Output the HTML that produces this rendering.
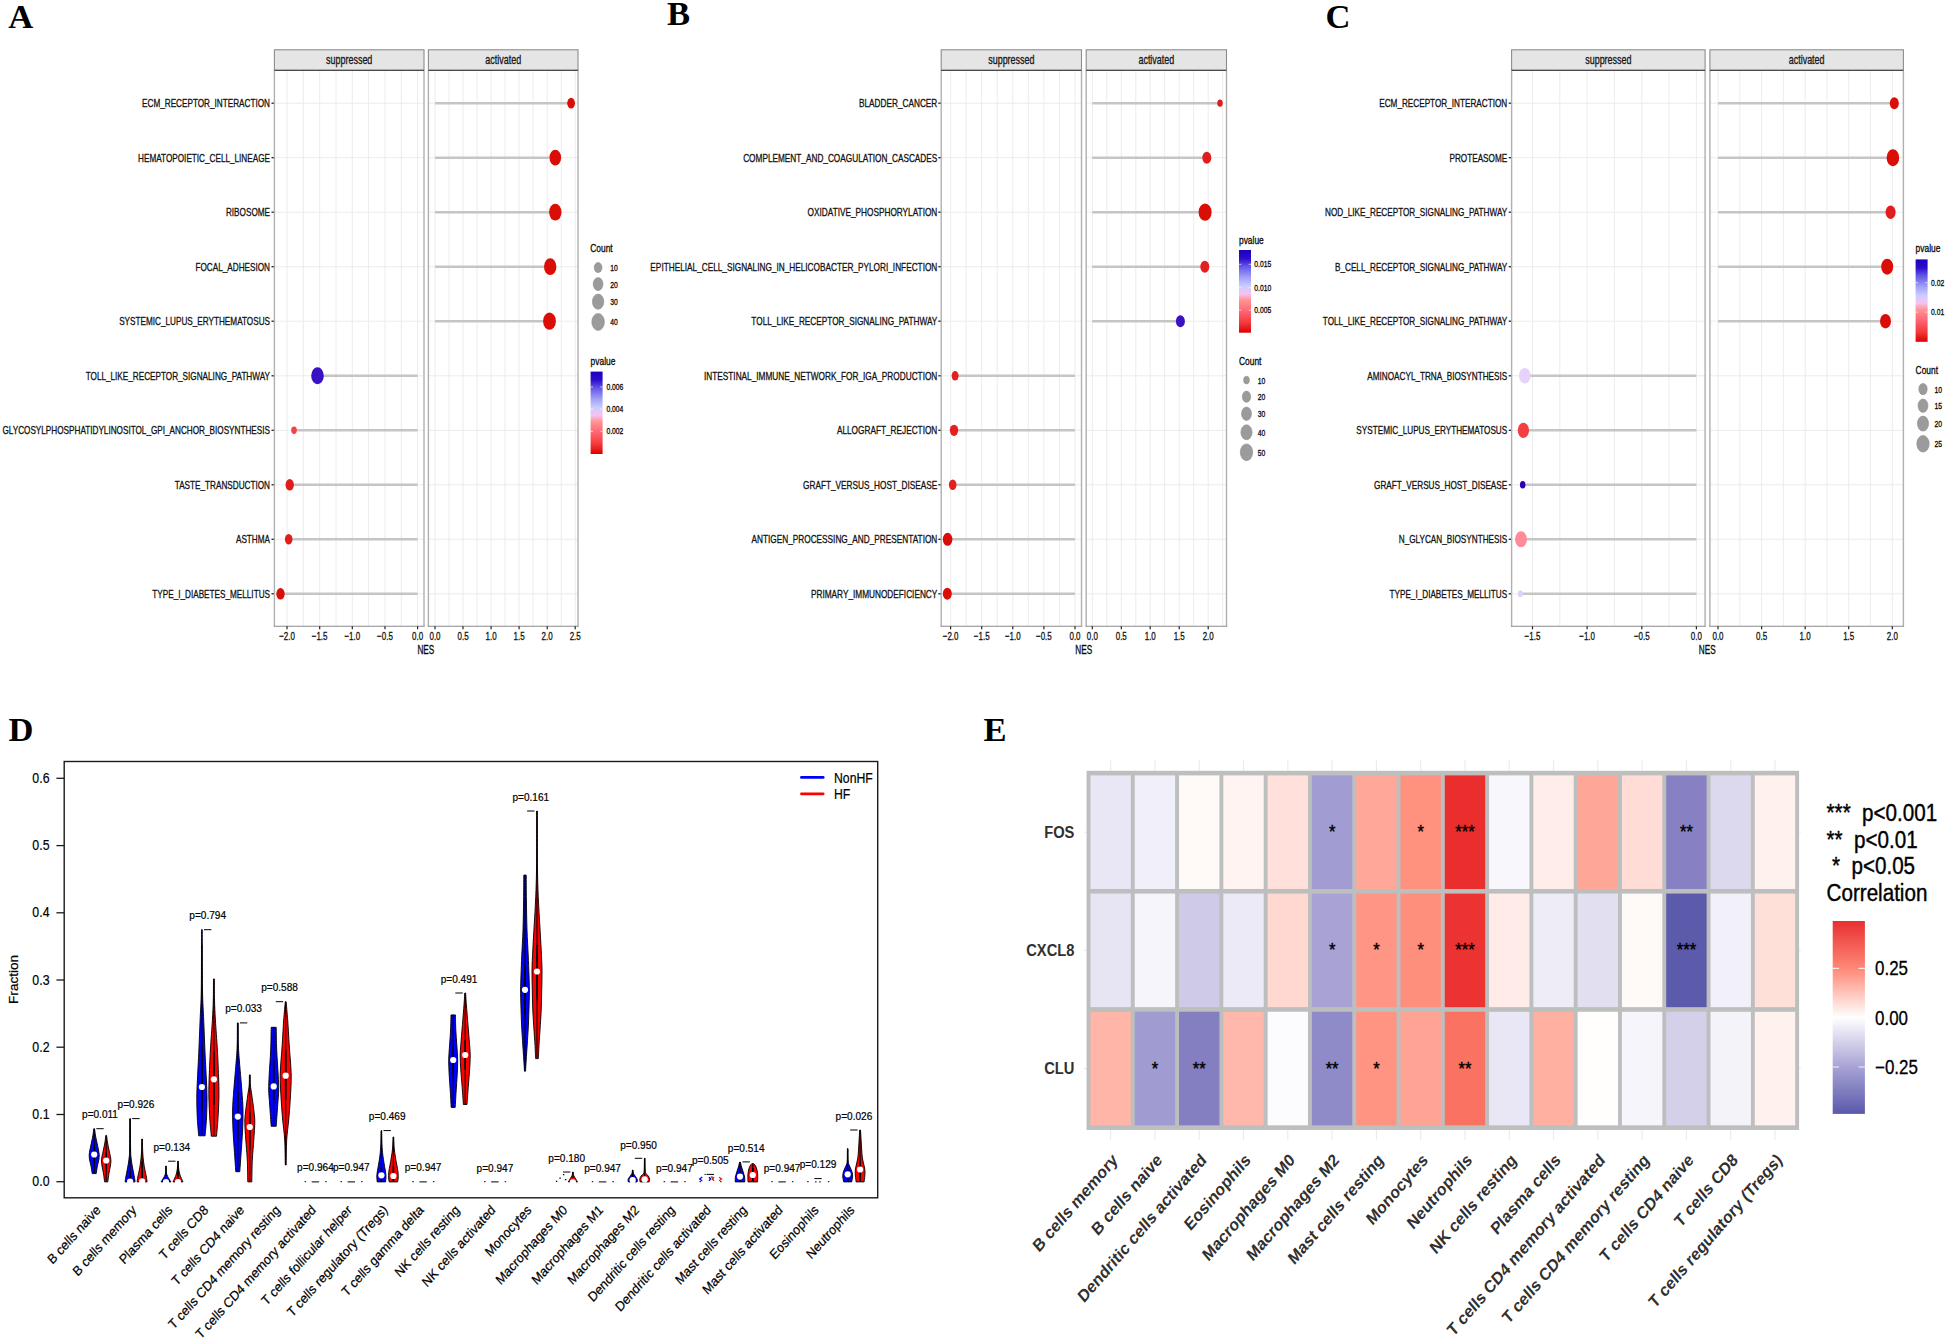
<!DOCTYPE html>
<html lang="en"><head><meta charset="utf-8"><title>Figure</title>
<style>
html,body{margin:0;padding:0;background:#fff}
body{width:1948px;height:1339px;overflow:hidden}
svg{display:block}
.s{font-family:"Liberation Sans",Arial,Helvetica,sans-serif}
.r{font-family:"Liberation Serif","Times New Roman",Times,serif}
</style></head><body>
<svg width="1948" height="1339" viewBox="0 0 1948 1339">
<defs>
<linearGradient id="pg" x1="0" y1="0" x2="0" y2="1">
<stop offset="0" stop-color="#1c00c0"/><stop offset="0.10" stop-color="#2a0ccc"/><stop offset="0.20" stop-color="#6456e8"/>
<stop offset="0.33" stop-color="#a0a0f8"/><stop offset="0.44" stop-color="#cdcdff"/><stop offset="0.53" stop-color="#f6c2f2"/>
<stop offset="0.61" stop-color="#ff9292"/><stop offset="0.74" stop-color="#ff6474"/><stop offset="0.88" stop-color="#f43a3a"/><stop offset="1" stop-color="#dc0000"/>
</linearGradient>
<linearGradient id="cg" x1="0" y1="0" x2="0" y2="1">
<stop offset="0" stop-color="#e83030"/><stop offset="0.25" stop-color="#ff8a78"/><stop offset="0.5" stop-color="#ffffff"/>
<stop offset="0.75" stop-color="#aaa5d6"/><stop offset="1" stop-color="#5a59ab"/>
</linearGradient>
</defs>
<rect width="1948" height="1339" fill="#fff"/>
<g id="panelA">
<rect x="274.4" y="49.8" width="149.6" height="20.5" fill="#e5e5e5" stroke="#8c8c8c" stroke-width="1.1"/>
<text class="s" transform="translate(349.20 63.90) scale(0.712 1)" font-size="12.6" text-anchor="middle" fill="#1a1a1a" stroke="#111" stroke-width="0.32">suppressed</text>
<rect x="428.4" y="49.8" width="149.6" height="20.5" fill="#e5e5e5" stroke="#8c8c8c" stroke-width="1.1"/>
<text class="s" transform="translate(503.20 63.90) scale(0.712 1)" font-size="12.6" text-anchor="middle" fill="#1a1a1a" stroke="#111" stroke-width="0.32">activated</text>
<path d="M287.0 70.3V626.3M303.3 70.3V626.3M319.7 70.3V626.3M336.0 70.3V626.3M352.3 70.3V626.3M368.6 70.3V626.3M385.0 70.3V626.3M401.3 70.3V626.3M417.6 70.3V626.3M274.4 103.2H424.0M274.4 157.7H424.0M274.4 212.2H424.0M274.4 266.7H424.0M274.4 321.2H424.0M274.4 375.8H424.0M274.4 430.3H424.0M274.4 484.8H424.0M274.4 539.3H424.0M274.4 593.8H424.0" stroke="#ececec" stroke-width="1" fill="none"/>
<path d="M435.0 70.3V626.3M449.0 70.3V626.3M463.0 70.3V626.3M477.1 70.3V626.3M491.1 70.3V626.3M505.1 70.3V626.3M519.1 70.3V626.3M533.1 70.3V626.3M547.2 70.3V626.3M561.2 70.3V626.3M575.2 70.3V626.3M428.4 103.2H578.0M428.4 157.7H578.0M428.4 212.2H578.0M428.4 266.7H578.0M428.4 321.2H578.0M428.4 375.8H578.0M428.4 430.3H578.0M428.4 484.8H578.0M428.4 539.3H578.0M428.4 593.8H578.0" stroke="#ececec" stroke-width="1" fill="none"/>
<path d="M435.0 103.2H571.1" stroke="#c5c5c5" stroke-width="2.6"/>
<ellipse cx="571.1" cy="103.2" rx="3.9" ry="5.4" fill="#da0e06"/>
<text class="s" transform="translate(270.00 107.30) scale(0.6939152 1)" font-size="11.8" text-anchor="end" fill="#111" stroke="#111" stroke-width="0.32">ECM_RECEPTOR_INTERACTION</text>
<path d="M271.5 103.2H274.4" stroke="#222" stroke-width="1.3"/>
<path d="M435.0 157.7H555.3" stroke="#c5c5c5" stroke-width="2.6"/>
<ellipse cx="555.3" cy="157.7" rx="5.8" ry="7.9" fill="#da0e06"/>
<text class="s" transform="translate(270.00 161.82) scale(0.6939152 1)" font-size="11.8" text-anchor="end" fill="#111" stroke="#111" stroke-width="0.32">HEMATOPOIETIC_CELL_LINEAGE</text>
<path d="M271.5 157.7H274.4" stroke="#222" stroke-width="1.3"/>
<path d="M435.0 212.2H555.3" stroke="#c5c5c5" stroke-width="2.6"/>
<ellipse cx="555.3" cy="212.2" rx="6.2" ry="8.4" fill="#da0e06"/>
<text class="s" transform="translate(270.00 216.34) scale(0.6939152 1)" font-size="11.8" text-anchor="end" fill="#111" stroke="#111" stroke-width="0.32">RIBOSOME</text>
<path d="M271.5 212.2H274.4" stroke="#222" stroke-width="1.3"/>
<path d="M435.0 266.7H550.2" stroke="#c5c5c5" stroke-width="2.6"/>
<ellipse cx="550.2" cy="266.7" rx="6.2" ry="8.4" fill="#da0e06"/>
<text class="s" transform="translate(270.00 270.86) scale(0.6939152 1)" font-size="11.8" text-anchor="end" fill="#111" stroke="#111" stroke-width="0.32">FOCAL_ADHESION</text>
<path d="M271.5 266.7H274.4" stroke="#222" stroke-width="1.3"/>
<path d="M435.0 321.2H549.5" stroke="#c5c5c5" stroke-width="2.6"/>
<ellipse cx="549.5" cy="321.2" rx="6.4" ry="8.6" fill="#da0e06"/>
<text class="s" transform="translate(270.00 325.38) scale(0.6939152 1)" font-size="11.8" text-anchor="end" fill="#111" stroke="#111" stroke-width="0.32">SYSTEMIC_LUPUS_ERYTHEMATOSUS</text>
<path d="M271.5 321.2H274.4" stroke="#222" stroke-width="1.3"/>
<path d="M417.6 375.8H317.5" stroke="#c5c5c5" stroke-width="2.6"/>
<ellipse cx="317.5" cy="375.8" rx="6.3" ry="8.5" fill="#3a12c4"/>
<text class="s" transform="translate(270.00 379.90) scale(0.6939152 1)" font-size="11.8" text-anchor="end" fill="#111" stroke="#111" stroke-width="0.32">TOLL_LIKE_RECEPTOR_SIGNALING_PATHWAY</text>
<path d="M271.5 375.8H274.4" stroke="#222" stroke-width="1.3"/>
<path d="M417.6 430.3H294.0" stroke="#c5c5c5" stroke-width="2.6"/>
<ellipse cx="294.0" cy="430.3" rx="2.8" ry="3.7" fill="#f24444"/>
<text class="s" transform="translate(270.00 434.42) scale(0.6939152 1)" font-size="11.8" text-anchor="end" fill="#111" stroke="#111" stroke-width="0.32">GLYCOSYLPHOSPHATIDYLINOSITOL_GPI_ANCHOR_BIOSYNTHESIS</text>
<path d="M271.5 430.3H274.4" stroke="#222" stroke-width="1.3"/>
<path d="M417.6 484.8H289.7" stroke="#c5c5c5" stroke-width="2.6"/>
<ellipse cx="289.7" cy="484.8" rx="4.2" ry="5.8" fill="#e01c1c"/>
<text class="s" transform="translate(270.00 488.94) scale(0.6939152 1)" font-size="11.8" text-anchor="end" fill="#111" stroke="#111" stroke-width="0.32">TASTE_TRANSDUCTION</text>
<path d="M271.5 484.8H274.4" stroke="#222" stroke-width="1.3"/>
<path d="M417.6 539.3H288.7" stroke="#c5c5c5" stroke-width="2.6"/>
<ellipse cx="288.7" cy="539.3" rx="3.8" ry="5.2" fill="#e01c1c"/>
<text class="s" transform="translate(270.00 543.46) scale(0.6939152 1)" font-size="11.8" text-anchor="end" fill="#111" stroke="#111" stroke-width="0.32">ASTHMA</text>
<path d="M271.5 539.3H274.4" stroke="#222" stroke-width="1.3"/>
<path d="M417.6 593.8H280.5" stroke="#c5c5c5" stroke-width="2.6"/>
<ellipse cx="280.5" cy="593.8" rx="4.2" ry="5.8" fill="#da0e06"/>
<text class="s" transform="translate(270.00 597.98) scale(0.6939152 1)" font-size="11.8" text-anchor="end" fill="#111" stroke="#111" stroke-width="0.32">TYPE_I_DIABETES_MELLITUS</text>
<path d="M271.5 593.8H274.4" stroke="#222" stroke-width="1.3"/>
<path d="M274.4 70.3V626.3M424.0 70.3V626.3" fill="none" stroke="#b0b0b0" stroke-width="1.4"/>
<path d="M273.7 626.3H424.7" fill="none" stroke="#8a8a8a" stroke-width="1.05"/>
<path d="M274.4 70.3H424.0" stroke="#4a4a4a" stroke-width="1.3"/>
<path d="M428.4 70.3V626.3M578.0 70.3V626.3" fill="none" stroke="#b0b0b0" stroke-width="1.4"/>
<path d="M427.7 626.3H578.7" fill="none" stroke="#8a8a8a" stroke-width="1.05"/>
<path d="M428.4 70.3H578.0" stroke="#4a4a4a" stroke-width="1.3"/>
<path d="M287.0 626.3v3.0" stroke="#222" stroke-width="1.2"/>
<text class="s" transform="translate(287.00 639.90) scale(0.675688 1)" font-size="11.8" text-anchor="middle" fill="#111" stroke="#111" stroke-width="0.32">−2.0</text>
<path d="M319.7 626.3v3.0" stroke="#222" stroke-width="1.2"/>
<text class="s" transform="translate(319.65 639.90) scale(0.675688 1)" font-size="11.8" text-anchor="middle" fill="#111" stroke="#111" stroke-width="0.32">−1.5</text>
<path d="M352.3 626.3v3.0" stroke="#222" stroke-width="1.2"/>
<text class="s" transform="translate(352.30 639.90) scale(0.675688 1)" font-size="11.8" text-anchor="middle" fill="#111" stroke="#111" stroke-width="0.32">−1.0</text>
<path d="M385.0 626.3v3.0" stroke="#222" stroke-width="1.2"/>
<text class="s" transform="translate(384.95 639.90) scale(0.675688 1)" font-size="11.8" text-anchor="middle" fill="#111" stroke="#111" stroke-width="0.32">−0.5</text>
<path d="M417.6 626.3v3.0" stroke="#222" stroke-width="1.2"/>
<text class="s" transform="translate(417.60 639.90) scale(0.675688 1)" font-size="11.8" text-anchor="middle" fill="#111" stroke="#111" stroke-width="0.32">0.0</text>
<path d="M435.0 626.3v3.0" stroke="#222" stroke-width="1.2"/>
<text class="s" transform="translate(435.00 639.90) scale(0.675688 1)" font-size="11.8" text-anchor="middle" fill="#111" stroke="#111" stroke-width="0.32">0.0</text>
<path d="M463.0 626.3v3.0" stroke="#222" stroke-width="1.2"/>
<text class="s" transform="translate(463.04 639.90) scale(0.675688 1)" font-size="11.8" text-anchor="middle" fill="#111" stroke="#111" stroke-width="0.32">0.5</text>
<path d="M491.1 626.3v3.0" stroke="#222" stroke-width="1.2"/>
<text class="s" transform="translate(491.08 639.90) scale(0.675688 1)" font-size="11.8" text-anchor="middle" fill="#111" stroke="#111" stroke-width="0.32">1.0</text>
<path d="M519.1 626.3v3.0" stroke="#222" stroke-width="1.2"/>
<text class="s" transform="translate(519.12 639.90) scale(0.675688 1)" font-size="11.8" text-anchor="middle" fill="#111" stroke="#111" stroke-width="0.32">1.5</text>
<path d="M547.2 626.3v3.0" stroke="#222" stroke-width="1.2"/>
<text class="s" transform="translate(547.16 639.90) scale(0.675688 1)" font-size="11.8" text-anchor="middle" fill="#111" stroke="#111" stroke-width="0.32">2.0</text>
<path d="M575.2 626.3v3.0" stroke="#222" stroke-width="1.2"/>
<text class="s" transform="translate(575.20 639.90) scale(0.675688 1)" font-size="11.8" text-anchor="middle" fill="#111" stroke="#111" stroke-width="0.32">2.5</text>
<text class="s" transform="translate(425.80 653.90) scale(0.6766848 1)" font-size="12.1" text-anchor="middle" stroke="#111" stroke-width="0.32">NES</text>
<text class="s" transform="translate(590.30 252.40) scale(0.712 1)" font-size="11.8" stroke="#111" stroke-width="0.32">Count</text>
<ellipse cx="598.1" cy="267.6" rx="3.9" ry="5.0" fill="#9b9b9b" stroke="#8e8e8e" stroke-width="0.6"/>
<text class="s" transform="translate(610.30 271.00) scale(0.712 1)" font-size="9.5" stroke="#111" stroke-width="0.32">10</text>
<ellipse cx="598.1" cy="284.1" rx="4.9" ry="6.5" fill="#9b9b9b" stroke="#8e8e8e" stroke-width="0.6"/>
<text class="s" transform="translate(610.30 287.50) scale(0.712 1)" font-size="9.5" stroke="#111" stroke-width="0.32">20</text>
<ellipse cx="598.1" cy="301.7" rx="5.7" ry="7.6" fill="#9b9b9b" stroke="#8e8e8e" stroke-width="0.6"/>
<text class="s" transform="translate(610.30 305.10) scale(0.712 1)" font-size="9.5" stroke="#111" stroke-width="0.32">30</text>
<ellipse cx="598.1" cy="322.0" rx="6.3" ry="8.5" fill="#9b9b9b" stroke="#8e8e8e" stroke-width="0.6"/>
<text class="s" transform="translate(610.30 325.40) scale(0.712 1)" font-size="9.5" stroke="#111" stroke-width="0.32">40</text>
<text class="s" transform="translate(590.60 364.60) scale(0.712 1)" font-size="11.8" stroke="#111" stroke-width="0.32">pvalue</text>
<rect x="590.6" y="371.6" width="12" height="82.4" fill="url(#pg)"/>
<path d="M590.6 386.9h2.4M602.6 386.9h-2.4" stroke="#fff" stroke-width="0.8" opacity="0.8"/>
<text class="s" transform="translate(606.40 389.90) scale(0.712 1)" font-size="9.5" stroke="#111" stroke-width="0.32">0.006</text>
<path d="M590.6 408.9h2.4M602.6 408.9h-2.4" stroke="#fff" stroke-width="0.8" opacity="0.8"/>
<text class="s" transform="translate(606.40 411.90) scale(0.712 1)" font-size="9.5" stroke="#111" stroke-width="0.32">0.004</text>
<path d="M590.6 431.3h2.4M602.6 431.3h-2.4" stroke="#fff" stroke-width="0.8" opacity="0.8"/>
<text class="s" transform="translate(606.40 434.30) scale(0.712 1)" font-size="9.5" stroke="#111" stroke-width="0.32">0.002</text>
</g>
<g id="panelB">
<rect x="941.2" y="49.8" width="140.3" height="20.5" fill="#e5e5e5" stroke="#8c8c8c" stroke-width="1.1"/>
<text class="s" transform="translate(1011.35 63.90) scale(0.712 1)" font-size="12.6" text-anchor="middle" fill="#1a1a1a" stroke="#111" stroke-width="0.32">suppressed</text>
<rect x="1086.2" y="49.8" width="140.3" height="20.5" fill="#e5e5e5" stroke="#8c8c8c" stroke-width="1.1"/>
<text class="s" transform="translate(1156.35 63.90) scale(0.712 1)" font-size="12.6" text-anchor="middle" fill="#1a1a1a" stroke="#111" stroke-width="0.32">activated</text>
<path d="M950.6 70.3V626.3M966.1 70.3V626.3M981.7 70.3V626.3M997.2 70.3V626.3M1012.8 70.3V626.3M1028.3 70.3V626.3M1043.9 70.3V626.3M1059.5 70.3V626.3M1075.0 70.3V626.3M941.2 103.2H1081.5M941.2 157.7H1081.5M941.2 212.2H1081.5M941.2 266.7H1081.5M941.2 321.2H1081.5M941.2 375.8H1081.5M941.2 430.3H1081.5M941.2 484.8H1081.5M941.2 539.3H1081.5M941.2 593.8H1081.5" stroke="#ececec" stroke-width="1" fill="none"/>
<path d="M1092.3 70.3V626.3M1106.8 70.3V626.3M1121.3 70.3V626.3M1135.8 70.3V626.3M1150.2 70.3V626.3M1164.7 70.3V626.3M1179.2 70.3V626.3M1193.7 70.3V626.3M1208.2 70.3V626.3M1222.7 70.3V626.3M1086.2 103.2H1226.5M1086.2 157.7H1226.5M1086.2 212.2H1226.5M1086.2 266.7H1226.5M1086.2 321.2H1226.5M1086.2 375.8H1226.5M1086.2 430.3H1226.5M1086.2 484.8H1226.5M1086.2 539.3H1226.5M1086.2 593.8H1226.5" stroke="#ececec" stroke-width="1" fill="none"/>
<path d="M1092.3 103.2H1220.0" stroke="#c5c5c5" stroke-width="2.6"/>
<ellipse cx="1220.0" cy="103.2" rx="2.7" ry="3.6" fill="#e01c1c"/>
<text class="s" transform="translate(937.30 107.30) scale(0.6997628 1)" font-size="11.8" text-anchor="end" fill="#111" stroke="#111" stroke-width="0.32">BLADDER_CANCER</text>
<path d="M938.3 103.2H941.2" stroke="#222" stroke-width="1.3"/>
<path d="M1092.3 157.7H1206.8" stroke="#c5c5c5" stroke-width="2.6"/>
<ellipse cx="1206.8" cy="157.7" rx="4.5" ry="6.0" fill="#e01c1c"/>
<text class="s" transform="translate(937.30 161.82) scale(0.6997628 1)" font-size="11.8" text-anchor="end" fill="#111" stroke="#111" stroke-width="0.32">COMPLEMENT_AND_COAGULATION_CASCADES</text>
<path d="M938.3 157.7H941.2" stroke="#222" stroke-width="1.3"/>
<path d="M1092.3 212.2H1205.1" stroke="#c5c5c5" stroke-width="2.6"/>
<ellipse cx="1205.1" cy="212.2" rx="6.5" ry="8.6" fill="#da0e06"/>
<text class="s" transform="translate(937.30 216.34) scale(0.6997628 1)" font-size="11.8" text-anchor="end" fill="#111" stroke="#111" stroke-width="0.32">OXIDATIVE_PHOSPHORYLATION</text>
<path d="M938.3 212.2H941.2" stroke="#222" stroke-width="1.3"/>
<path d="M1092.3 266.7H1204.8" stroke="#c5c5c5" stroke-width="2.6"/>
<ellipse cx="1204.8" cy="266.7" rx="4.5" ry="6.0" fill="#e22020"/>
<text class="s" transform="translate(937.30 270.86) scale(0.6997628 1)" font-size="11.8" text-anchor="end" fill="#111" stroke="#111" stroke-width="0.32">EPITHELIAL_CELL_SIGNALING_IN_HELICOBACTER_PYLORI_INFECTION</text>
<path d="M938.3 266.7H941.2" stroke="#222" stroke-width="1.3"/>
<path d="M1092.3 321.2H1180.4" stroke="#c5c5c5" stroke-width="2.6"/>
<ellipse cx="1180.4" cy="321.2" rx="4.5" ry="6.0" fill="#3a12c4"/>
<text class="s" transform="translate(937.30 325.38) scale(0.6997628 1)" font-size="11.8" text-anchor="end" fill="#111" stroke="#111" stroke-width="0.32">TOLL_LIKE_RECEPTOR_SIGNALING_PATHWAY</text>
<path d="M938.3 321.2H941.2" stroke="#222" stroke-width="1.3"/>
<path d="M1075.0 375.8H955.1" stroke="#c5c5c5" stroke-width="2.6"/>
<ellipse cx="955.1" cy="375.8" rx="3.5" ry="4.8" fill="#e22020"/>
<text class="s" transform="translate(937.30 379.90) scale(0.6997628 1)" font-size="11.8" text-anchor="end" fill="#111" stroke="#111" stroke-width="0.32">INTESTINAL_IMMUNE_NETWORK_FOR_IGA_PRODUCTION</text>
<path d="M938.3 375.8H941.2" stroke="#222" stroke-width="1.3"/>
<path d="M1075.0 430.3H954.0" stroke="#c5c5c5" stroke-width="2.6"/>
<ellipse cx="954.0" cy="430.3" rx="4.2" ry="5.6" fill="#e22020"/>
<text class="s" transform="translate(937.30 434.42) scale(0.6997628 1)" font-size="11.8" text-anchor="end" fill="#111" stroke="#111" stroke-width="0.32">ALLOGRAFT_REJECTION</text>
<path d="M938.3 430.3H941.2" stroke="#222" stroke-width="1.3"/>
<path d="M1075.0 484.8H952.7" stroke="#c5c5c5" stroke-width="2.6"/>
<ellipse cx="952.7" cy="484.8" rx="3.8" ry="5.2" fill="#e22020"/>
<text class="s" transform="translate(937.30 488.94) scale(0.6997628 1)" font-size="11.8" text-anchor="end" fill="#111" stroke="#111" stroke-width="0.32">GRAFT_VERSUS_HOST_DISEASE</text>
<path d="M938.3 484.8H941.2" stroke="#222" stroke-width="1.3"/>
<path d="M1075.0 539.3H947.6" stroke="#c5c5c5" stroke-width="2.6"/>
<ellipse cx="947.6" cy="539.3" rx="4.8" ry="6.5" fill="#da0e06"/>
<text class="s" transform="translate(937.30 543.46) scale(0.6997628 1)" font-size="11.8" text-anchor="end" fill="#111" stroke="#111" stroke-width="0.32">ANTIGEN_PROCESSING_AND_PRESENTATION</text>
<path d="M938.3 539.3H941.2" stroke="#222" stroke-width="1.3"/>
<path d="M1075.0 593.8H947.3" stroke="#c5c5c5" stroke-width="2.6"/>
<ellipse cx="947.3" cy="593.8" rx="4.5" ry="6.0" fill="#da0e06"/>
<text class="s" transform="translate(937.30 597.98) scale(0.6997628 1)" font-size="11.8" text-anchor="end" fill="#111" stroke="#111" stroke-width="0.32">PRIMARY_IMMUNODEFICIENCY</text>
<path d="M938.3 593.8H941.2" stroke="#222" stroke-width="1.3"/>
<path d="M941.2 70.3V626.3M1081.5 70.3V626.3" fill="none" stroke="#b0b0b0" stroke-width="1.4"/>
<path d="M940.5 626.3H1082.2" fill="none" stroke="#8a8a8a" stroke-width="1.05"/>
<path d="M941.2 70.3H1081.5" stroke="#4a4a4a" stroke-width="1.3"/>
<path d="M1086.2 70.3V626.3M1226.5 70.3V626.3" fill="none" stroke="#b0b0b0" stroke-width="1.4"/>
<path d="M1085.5 626.3H1227.2" fill="none" stroke="#8a8a8a" stroke-width="1.05"/>
<path d="M1086.2 70.3H1226.5" stroke="#4a4a4a" stroke-width="1.3"/>
<path d="M950.6 626.3v3.0" stroke="#222" stroke-width="1.2"/>
<text class="s" transform="translate(950.60 639.90) scale(0.675688 1)" font-size="11.8" text-anchor="middle" fill="#111" stroke="#111" stroke-width="0.32">−2.0</text>
<path d="M981.7 626.3v3.0" stroke="#222" stroke-width="1.2"/>
<text class="s" transform="translate(981.70 639.90) scale(0.675688 1)" font-size="11.8" text-anchor="middle" fill="#111" stroke="#111" stroke-width="0.32">−1.5</text>
<path d="M1012.8 626.3v3.0" stroke="#222" stroke-width="1.2"/>
<text class="s" transform="translate(1012.80 639.90) scale(0.675688 1)" font-size="11.8" text-anchor="middle" fill="#111" stroke="#111" stroke-width="0.32">−1.0</text>
<path d="M1043.9 626.3v3.0" stroke="#222" stroke-width="1.2"/>
<text class="s" transform="translate(1043.90 639.90) scale(0.675688 1)" font-size="11.8" text-anchor="middle" fill="#111" stroke="#111" stroke-width="0.32">−0.5</text>
<path d="M1075.0 626.3v3.0" stroke="#222" stroke-width="1.2"/>
<text class="s" transform="translate(1075.00 639.90) scale(0.675688 1)" font-size="11.8" text-anchor="middle" fill="#111" stroke="#111" stroke-width="0.32">0.0</text>
<path d="M1092.3 626.3v3.0" stroke="#222" stroke-width="1.2"/>
<text class="s" transform="translate(1092.30 639.90) scale(0.675688 1)" font-size="11.8" text-anchor="middle" fill="#111" stroke="#111" stroke-width="0.32">0.0</text>
<path d="M1121.3 626.3v3.0" stroke="#222" stroke-width="1.2"/>
<text class="s" transform="translate(1121.27 639.90) scale(0.675688 1)" font-size="11.8" text-anchor="middle" fill="#111" stroke="#111" stroke-width="0.32">0.5</text>
<path d="M1150.2 626.3v3.0" stroke="#222" stroke-width="1.2"/>
<text class="s" transform="translate(1150.25 639.90) scale(0.675688 1)" font-size="11.8" text-anchor="middle" fill="#111" stroke="#111" stroke-width="0.32">1.0</text>
<path d="M1179.2 626.3v3.0" stroke="#222" stroke-width="1.2"/>
<text class="s" transform="translate(1179.22 639.90) scale(0.675688 1)" font-size="11.8" text-anchor="middle" fill="#111" stroke="#111" stroke-width="0.32">1.5</text>
<path d="M1208.2 626.3v3.0" stroke="#222" stroke-width="1.2"/>
<text class="s" transform="translate(1208.20 639.90) scale(0.675688 1)" font-size="11.8" text-anchor="middle" fill="#111" stroke="#111" stroke-width="0.32">2.0</text>
<text class="s" transform="translate(1083.70 653.90) scale(0.6766848 1)" font-size="12.1" text-anchor="middle" stroke="#111" stroke-width="0.32">NES</text>
<text class="s" transform="translate(1239.00 364.80) scale(0.712 1)" font-size="11.8" stroke="#111" stroke-width="0.32">Count</text>
<ellipse cx="1246.5" cy="380.1" rx="2.9" ry="3.9" fill="#9b9b9b" stroke="#8e8e8e" stroke-width="0.6"/>
<text class="s" transform="translate(1257.70 383.50) scale(0.712 1)" font-size="9.5" stroke="#111" stroke-width="0.32">10</text>
<ellipse cx="1246.5" cy="396.7" rx="4.2" ry="5.6" fill="#9b9b9b" stroke="#8e8e8e" stroke-width="0.6"/>
<text class="s" transform="translate(1257.70 400.10) scale(0.712 1)" font-size="9.5" stroke="#111" stroke-width="0.32">20</text>
<ellipse cx="1246.5" cy="413.7" rx="5.0" ry="6.7" fill="#9b9b9b" stroke="#8e8e8e" stroke-width="0.6"/>
<text class="s" transform="translate(1257.70 417.10) scale(0.712 1)" font-size="9.5" stroke="#111" stroke-width="0.32">30</text>
<ellipse cx="1246.5" cy="432.3" rx="5.6" ry="7.5" fill="#9b9b9b" stroke="#8e8e8e" stroke-width="0.6"/>
<text class="s" transform="translate(1257.70 435.70) scale(0.712 1)" font-size="9.5" stroke="#111" stroke-width="0.32">40</text>
<ellipse cx="1246.5" cy="452.3" rx="6.2" ry="8.4" fill="#9b9b9b" stroke="#8e8e8e" stroke-width="0.6"/>
<text class="s" transform="translate(1257.70 455.70) scale(0.712 1)" font-size="9.5" stroke="#111" stroke-width="0.32">50</text>
<text class="s" transform="translate(1239.00 243.60) scale(0.712 1)" font-size="11.8" stroke="#111" stroke-width="0.32">pvalue</text>
<rect x="1239.0" y="250.0" width="12" height="82.7" fill="url(#pg)"/>
<path d="M1239.0 264.3h2.4M1251.0 264.3h-2.4" stroke="#fff" stroke-width="0.8" opacity="0.8"/>
<text class="s" transform="translate(1254.30 267.30) scale(0.712 1)" font-size="9.5" stroke="#111" stroke-width="0.32">0.015</text>
<path d="M1239.0 287.7h2.4M1251.0 287.7h-2.4" stroke="#fff" stroke-width="0.8" opacity="0.8"/>
<text class="s" transform="translate(1254.30 290.70) scale(0.712 1)" font-size="9.5" stroke="#111" stroke-width="0.32">0.010</text>
<path d="M1239.0 310.09999999999997h2.4M1251.0 310.09999999999997h-2.4" stroke="#fff" stroke-width="0.8" opacity="0.8"/>
<text class="s" transform="translate(1254.30 313.10) scale(0.712 1)" font-size="9.5" stroke="#111" stroke-width="0.32">0.005</text>
</g>
<g id="panelC">
<rect x="1511.6" y="49.8" width="193.5" height="20.5" fill="#e5e5e5" stroke="#8c8c8c" stroke-width="1.1"/>
<text class="s" transform="translate(1608.35 63.90) scale(0.712 1)" font-size="12.6" text-anchor="middle" fill="#1a1a1a" stroke="#111" stroke-width="0.32">suppressed</text>
<rect x="1709.9" y="49.8" width="193.5" height="20.5" fill="#e5e5e5" stroke="#8c8c8c" stroke-width="1.1"/>
<text class="s" transform="translate(1806.65 63.90) scale(0.712 1)" font-size="12.6" text-anchor="middle" fill="#1a1a1a" stroke="#111" stroke-width="0.32">activated</text>
<path d="M1532.5 70.3V626.3M1559.8 70.3V626.3M1587.1 70.3V626.3M1614.4 70.3V626.3M1641.8 70.3V626.3M1669.1 70.3V626.3M1696.4 70.3V626.3M1511.6 103.2H1705.1M1511.6 157.7H1705.1M1511.6 212.2H1705.1M1511.6 266.7H1705.1M1511.6 321.2H1705.1M1511.6 375.8H1705.1M1511.6 430.3H1705.1M1511.6 484.8H1705.1M1511.6 539.3H1705.1M1511.6 593.8H1705.1" stroke="#ececec" stroke-width="1" fill="none"/>
<path d="M1718.0 70.3V626.3M1739.8 70.3V626.3M1761.6 70.3V626.3M1783.4 70.3V626.3M1805.2 70.3V626.3M1826.9 70.3V626.3M1848.7 70.3V626.3M1870.5 70.3V626.3M1892.3 70.3V626.3M1709.9 103.2H1903.4M1709.9 157.7H1903.4M1709.9 212.2H1903.4M1709.9 266.7H1903.4M1709.9 321.2H1903.4M1709.9 375.8H1903.4M1709.9 430.3H1903.4M1709.9 484.8H1903.4M1709.9 539.3H1903.4M1709.9 593.8H1903.4" stroke="#ececec" stroke-width="1" fill="none"/>
<path d="M1718.0 103.2H1894.3" stroke="#c5c5c5" stroke-width="2.6"/>
<ellipse cx="1894.3" cy="103.2" rx="4.5" ry="6.0" fill="#da0e06"/>
<text class="s" transform="translate(1507.20 107.30) scale(0.6939152 1)" font-size="11.8" text-anchor="end" fill="#111" stroke="#111" stroke-width="0.32">ECM_RECEPTOR_INTERACTION</text>
<path d="M1508.7 103.2H1511.6" stroke="#222" stroke-width="1.3"/>
<path d="M1718.0 157.7H1892.9" stroke="#c5c5c5" stroke-width="2.6"/>
<ellipse cx="1892.9" cy="157.7" rx="6.3" ry="8.5" fill="#da0e06"/>
<text class="s" transform="translate(1507.20 161.82) scale(0.6939152 1)" font-size="11.8" text-anchor="end" fill="#111" stroke="#111" stroke-width="0.32">PROTEASOME</text>
<path d="M1508.7 157.7H1511.6" stroke="#222" stroke-width="1.3"/>
<path d="M1718.0 212.2H1890.6" stroke="#c5c5c5" stroke-width="2.6"/>
<ellipse cx="1890.6" cy="212.2" rx="5.0" ry="6.8" fill="#e01c1c"/>
<text class="s" transform="translate(1507.20 216.34) scale(0.6939152 1)" font-size="11.8" text-anchor="end" fill="#111" stroke="#111" stroke-width="0.32">NOD_LIKE_RECEPTOR_SIGNALING_PATHWAY</text>
<path d="M1508.7 212.2H1511.6" stroke="#222" stroke-width="1.3"/>
<path d="M1718.0 266.7H1887.2" stroke="#c5c5c5" stroke-width="2.6"/>
<ellipse cx="1887.2" cy="266.7" rx="6.0" ry="8.0" fill="#da0e06"/>
<text class="s" transform="translate(1507.20 270.86) scale(0.6939152 1)" font-size="11.8" text-anchor="end" fill="#111" stroke="#111" stroke-width="0.32">B_CELL_RECEPTOR_SIGNALING_PATHWAY</text>
<path d="M1508.7 266.7H1511.6" stroke="#222" stroke-width="1.3"/>
<path d="M1718.0 321.2H1885.5" stroke="#c5c5c5" stroke-width="2.6"/>
<ellipse cx="1885.5" cy="321.2" rx="5.5" ry="7.3" fill="#da0e06"/>
<text class="s" transform="translate(1507.20 325.38) scale(0.6939152 1)" font-size="11.8" text-anchor="end" fill="#111" stroke="#111" stroke-width="0.32">TOLL_LIKE_RECEPTOR_SIGNALING_PATHWAY</text>
<path d="M1508.7 321.2H1511.6" stroke="#222" stroke-width="1.3"/>
<path d="M1696.4 375.8H1524.8" stroke="#c5c5c5" stroke-width="2.6"/>
<ellipse cx="1524.8" cy="375.8" rx="5.8" ry="7.8" fill="#e6d2fa"/>
<text class="s" transform="translate(1507.20 379.90) scale(0.6939152 1)" font-size="11.8" text-anchor="end" fill="#111" stroke="#111" stroke-width="0.32">AMINOACYL_TRNA_BIOSYNTHESIS</text>
<path d="M1508.7 375.8H1511.6" stroke="#222" stroke-width="1.3"/>
<path d="M1696.4 430.3H1523.4" stroke="#c5c5c5" stroke-width="2.6"/>
<ellipse cx="1523.4" cy="430.3" rx="5.7" ry="7.6" fill="#f24040"/>
<text class="s" transform="translate(1507.20 434.42) scale(0.6939152 1)" font-size="11.8" text-anchor="end" fill="#111" stroke="#111" stroke-width="0.32">SYSTEMIC_LUPUS_ERYTHEMATOSUS</text>
<path d="M1508.7 430.3H1511.6" stroke="#222" stroke-width="1.3"/>
<path d="M1696.4 484.8H1522.7" stroke="#c5c5c5" stroke-width="2.6"/>
<ellipse cx="1522.7" cy="484.8" rx="2.8" ry="3.8" fill="#3000b4"/>
<text class="s" transform="translate(1507.20 488.94) scale(0.6939152 1)" font-size="11.8" text-anchor="end" fill="#111" stroke="#111" stroke-width="0.32">GRAFT_VERSUS_HOST_DISEASE</text>
<path d="M1508.7 484.8H1511.6" stroke="#222" stroke-width="1.3"/>
<path d="M1696.4 539.3H1521.0" stroke="#c5c5c5" stroke-width="2.6"/>
<ellipse cx="1521.0" cy="539.3" rx="6.0" ry="8.0" fill="#ff8a98"/>
<text class="s" transform="translate(1507.20 543.46) scale(0.6939152 1)" font-size="11.8" text-anchor="end" fill="#111" stroke="#111" stroke-width="0.32">N_GLYCAN_BIOSYNTHESIS</text>
<path d="M1508.7 539.3H1511.6" stroke="#222" stroke-width="1.3"/>
<path d="M1696.4 593.8H1520.4" stroke="#c5c5c5" stroke-width="2.6"/>
<ellipse cx="1520.4" cy="593.8" rx="2.6" ry="3.5" fill="#dcd4fa"/>
<text class="s" transform="translate(1507.20 597.98) scale(0.6939152 1)" font-size="11.8" text-anchor="end" fill="#111" stroke="#111" stroke-width="0.32">TYPE_I_DIABETES_MELLITUS</text>
<path d="M1508.7 593.8H1511.6" stroke="#222" stroke-width="1.3"/>
<path d="M1511.6 70.3V626.3M1705.1 70.3V626.3" fill="none" stroke="#b0b0b0" stroke-width="1.4"/>
<path d="M1510.9 626.3H1705.8" fill="none" stroke="#8a8a8a" stroke-width="1.05"/>
<path d="M1511.6 70.3H1705.1" stroke="#4a4a4a" stroke-width="1.3"/>
<path d="M1709.9 70.3V626.3M1903.4 70.3V626.3" fill="none" stroke="#b0b0b0" stroke-width="1.4"/>
<path d="M1709.2 626.3H1904.1" fill="none" stroke="#8a8a8a" stroke-width="1.05"/>
<path d="M1709.9 70.3H1903.4" stroke="#4a4a4a" stroke-width="1.3"/>
<path d="M1532.5 626.3v3.0" stroke="#222" stroke-width="1.2"/>
<text class="s" transform="translate(1532.45 639.90) scale(0.675688 1)" font-size="11.8" text-anchor="middle" fill="#111" stroke="#111" stroke-width="0.32">−1.5</text>
<path d="M1587.1 626.3v3.0" stroke="#222" stroke-width="1.2"/>
<text class="s" transform="translate(1587.10 639.90) scale(0.675688 1)" font-size="11.8" text-anchor="middle" fill="#111" stroke="#111" stroke-width="0.32">−1.0</text>
<path d="M1641.8 626.3v3.0" stroke="#222" stroke-width="1.2"/>
<text class="s" transform="translate(1641.75 639.90) scale(0.675688 1)" font-size="11.8" text-anchor="middle" fill="#111" stroke="#111" stroke-width="0.32">−0.5</text>
<path d="M1696.4 626.3v3.0" stroke="#222" stroke-width="1.2"/>
<text class="s" transform="translate(1696.40 639.90) scale(0.675688 1)" font-size="11.8" text-anchor="middle" fill="#111" stroke="#111" stroke-width="0.32">0.0</text>
<path d="M1718.0 626.3v3.0" stroke="#222" stroke-width="1.2"/>
<text class="s" transform="translate(1718.00 639.90) scale(0.675688 1)" font-size="11.8" text-anchor="middle" fill="#111" stroke="#111" stroke-width="0.32">0.0</text>
<path d="M1761.6 626.3v3.0" stroke="#222" stroke-width="1.2"/>
<text class="s" transform="translate(1761.58 639.90) scale(0.675688 1)" font-size="11.8" text-anchor="middle" fill="#111" stroke="#111" stroke-width="0.32">0.5</text>
<path d="M1805.2 626.3v3.0" stroke="#222" stroke-width="1.2"/>
<text class="s" transform="translate(1805.15 639.90) scale(0.675688 1)" font-size="11.8" text-anchor="middle" fill="#111" stroke="#111" stroke-width="0.32">1.0</text>
<path d="M1848.7 626.3v3.0" stroke="#222" stroke-width="1.2"/>
<text class="s" transform="translate(1848.72 639.90) scale(0.675688 1)" font-size="11.8" text-anchor="middle" fill="#111" stroke="#111" stroke-width="0.32">1.5</text>
<path d="M1892.3 626.3v3.0" stroke="#222" stroke-width="1.2"/>
<text class="s" transform="translate(1892.30 639.90) scale(0.675688 1)" font-size="11.8" text-anchor="middle" fill="#111" stroke="#111" stroke-width="0.32">2.0</text>
<text class="s" transform="translate(1707.20 653.90) scale(0.6766848 1)" font-size="12.1" text-anchor="middle" stroke="#111" stroke-width="0.32">NES</text>
<text class="s" transform="translate(1915.60 373.60) scale(0.712 1)" font-size="11.8" stroke="#111" stroke-width="0.32">Count</text>
<ellipse cx="1923.0" cy="389.1" rx="4.2" ry="5.7" fill="#9b9b9b" stroke="#8e8e8e" stroke-width="0.6"/>
<text class="s" transform="translate(1934.50 392.50) scale(0.712 1)" font-size="9.5" stroke="#111" stroke-width="0.32">10</text>
<ellipse cx="1923.0" cy="405.7" rx="5.0" ry="6.7" fill="#9b9b9b" stroke="#8e8e8e" stroke-width="0.6"/>
<text class="s" transform="translate(1934.50 409.10) scale(0.712 1)" font-size="9.5" stroke="#111" stroke-width="0.32">15</text>
<ellipse cx="1923.0" cy="423.6" rx="5.6" ry="7.5" fill="#9b9b9b" stroke="#8e8e8e" stroke-width="0.6"/>
<text class="s" transform="translate(1934.50 427.00) scale(0.712 1)" font-size="9.5" stroke="#111" stroke-width="0.32">20</text>
<ellipse cx="1923.0" cy="443.8" rx="6.2" ry="8.3" fill="#9b9b9b" stroke="#8e8e8e" stroke-width="0.6"/>
<text class="s" transform="translate(1934.50 447.20) scale(0.712 1)" font-size="9.5" stroke="#111" stroke-width="0.32">25</text>
<text class="s" transform="translate(1915.60 252.40) scale(0.712 1)" font-size="11.8" stroke="#111" stroke-width="0.32">pvalue</text>
<rect x="1915.6" y="259.4" width="12" height="82.4" fill="url(#pg)"/>
<path d="M1915.6 282.7h2.4M1927.6 282.7h-2.4" stroke="#fff" stroke-width="0.8" opacity="0.8"/>
<text class="s" transform="translate(1931.00 285.70) scale(0.712 1)" font-size="9.5" stroke="#111" stroke-width="0.32">0.02</text>
<path d="M1915.6 312.2h2.4M1927.6 312.2h-2.4" stroke="#fff" stroke-width="0.8" opacity="0.8"/>
<text class="s" transform="translate(1931.00 315.20) scale(0.712 1)" font-size="9.5" stroke="#111" stroke-width="0.32">0.01</text>
</g>
<text class="r" transform="translate(8.30 27.70)" font-size="34.6" font-weight="bold">A</text>
<text class="r" transform="translate(667.00 25.00)" font-size="34.6" font-weight="bold">B</text>
<text class="r" transform="translate(1325.40 27.90)" font-size="34.6" font-weight="bold">C</text>
<text class="r" transform="translate(8.40 741.00)" font-size="34.6" font-weight="bold">D</text>
<text class="r" transform="translate(983.40 741.00)" font-size="34.6" font-weight="bold">E</text>
<g id="panelD">
<rect x="64.2" y="761.5" width="813.5" height="436.3" fill="none" stroke="#1a1a1a" stroke-width="1.4"/>
<path d="M56.4 1181.7H64.2" stroke="#1a1a1a" stroke-width="1.3"/>
<text class="s" transform="translate(49.50 1186.20) scale(0.822 1)" font-size="15.0" text-anchor="end" stroke="#000" stroke-width="0.22">0.0</text>
<path d="M56.4 1114.5H64.2" stroke="#1a1a1a" stroke-width="1.3"/>
<text class="s" transform="translate(49.50 1118.97) scale(0.822 1)" font-size="15.0" text-anchor="end" stroke="#000" stroke-width="0.22">0.1</text>
<path d="M56.4 1047.2H64.2" stroke="#1a1a1a" stroke-width="1.3"/>
<text class="s" transform="translate(49.50 1051.74) scale(0.822 1)" font-size="15.0" text-anchor="end" stroke="#000" stroke-width="0.22">0.2</text>
<path d="M56.4 980.0H64.2" stroke="#1a1a1a" stroke-width="1.3"/>
<text class="s" transform="translate(49.50 984.51) scale(0.822 1)" font-size="15.0" text-anchor="end" stroke="#000" stroke-width="0.22">0.3</text>
<path d="M56.4 912.8H64.2" stroke="#1a1a1a" stroke-width="1.3"/>
<text class="s" transform="translate(49.50 917.28) scale(0.822 1)" font-size="15.0" text-anchor="end" stroke="#000" stroke-width="0.22">0.4</text>
<path d="M56.4 845.6H64.2" stroke="#1a1a1a" stroke-width="1.3"/>
<text class="s" transform="translate(49.50 850.05) scale(0.822 1)" font-size="15.0" text-anchor="end" stroke="#000" stroke-width="0.22">0.5</text>
<path d="M56.4 778.3H64.2" stroke="#1a1a1a" stroke-width="1.3"/>
<text class="s" transform="translate(49.50 782.82) scale(0.822 1)" font-size="15.0" text-anchor="end" stroke="#000" stroke-width="0.22">0.6</text>
<text class="s" transform="translate(17.9 979.4) scale(0.9 1) rotate(-90)" font-size="13.6" text-anchor="middle" stroke="#000" stroke-width="0.22">Fraction</text>
<path d="M94.60 1128.70C94.73 1129.71 95.05 1132.87 95.40 1135.00C95.75 1137.13 96.30 1139.60 96.80 1142.00C97.30 1144.40 98.12 1147.92 98.50 1150.00C98.88 1152.08 99.15 1153.40 99.20 1155.00C99.25 1156.60 99.09 1158.24 98.80 1160.00C98.51 1161.76 97.82 1163.82 97.40 1166.00C96.98 1168.18 96.39 1172.38 96.20 1173.60L92.20 1173.60C92.01 1172.38 91.42 1168.18 91.00 1166.00C90.58 1163.82 89.89 1161.76 89.60 1160.00C89.31 1158.24 89.15 1156.60 89.20 1155.00C89.25 1153.40 89.52 1152.08 89.90 1150.00C90.28 1147.92 91.10 1144.40 91.60 1142.00C92.10 1139.60 92.65 1137.13 93.00 1135.00C93.35 1132.87 93.67 1129.71 93.80 1128.70Z" fill="#0000ff" stroke="#000" stroke-width="0.9" stroke-linejoin="round"/>
<path d="M94.2 1129V1173" stroke="#000" stroke-width="1.1"/>
<path d="M94.2 1146V1163" stroke="#000" stroke-width="1.6"/>
<circle cx="94.2" cy="1154.5" r="3.1" fill="#fff"/>
<path d="M106.60 1135.40C106.73 1136.46 107.02 1139.66 107.40 1142.00C107.78 1144.34 108.50 1147.60 109.00 1150.00C109.50 1152.40 110.20 1155.24 110.50 1157.00C110.80 1158.76 110.92 1159.56 110.90 1161.00C110.88 1162.44 110.70 1164.08 110.40 1166.00C110.10 1167.92 109.42 1170.46 109.00 1173.00C108.58 1175.54 107.99 1180.48 107.80 1181.90L104.60 1181.90C104.41 1180.48 103.82 1175.54 103.40 1173.00C102.98 1170.46 102.30 1167.92 102.00 1166.00C101.70 1164.08 101.52 1162.44 101.50 1161.00C101.48 1159.56 101.60 1158.76 101.90 1157.00C102.20 1155.24 102.90 1152.40 103.40 1150.00C103.90 1147.60 104.62 1144.34 105.00 1142.00C105.38 1139.66 105.67 1136.46 105.80 1135.40Z" fill="#ff0000" stroke="#000" stroke-width="0.9" stroke-linejoin="round"/>
<path d="M106.2 1136V1181" stroke="#000" stroke-width="1.1"/>
<path d="M106.2 1152V1169" stroke="#000" stroke-width="1.6"/>
<circle cx="106.2" cy="1160.5" r="3.1" fill="#fff"/>
<path d="M96.3 1128.7h7.4" stroke="#000" stroke-width="1.0"/>
<text class="s" transform="translate(100.00 1118.40) scale(0.9 1)" font-size="11.2" text-anchor="middle" stroke="#000" stroke-width="0.22">p=0.011</text>
<text class="s" transform="translate(101.3 1210.8) scale(0.9 1) rotate(-45)" font-size="13.7" text-anchor="end" stroke="#000" stroke-width="0.22">B cells naive</text>
<path d="M130.40 1118.60C130.43 1123.62 130.49 1143.70 130.60 1150.00C130.71 1156.30 130.89 1155.76 131.10 1158.00C131.31 1160.24 131.53 1161.76 131.90 1164.00C132.27 1166.24 132.95 1169.68 133.40 1172.00C133.85 1174.32 134.43 1176.92 134.70 1178.50C134.97 1180.08 135.04 1181.36 135.10 1181.90L125.10 1181.90C125.16 1181.36 125.23 1180.08 125.50 1178.50C125.77 1176.92 126.35 1174.32 126.80 1172.00C127.25 1169.68 127.93 1166.24 128.30 1164.00C128.67 1161.76 128.89 1160.24 129.10 1158.00C129.31 1155.76 129.49 1156.30 129.60 1150.00C129.71 1143.70 129.77 1123.62 129.80 1118.60Z" fill="#0000ff" stroke="#000" stroke-width="0.9" stroke-linejoin="round"/>
<path d="M130.1 1119V1181" stroke="#000" stroke-width="1.1"/>
<path d="M130.1 1172V1181" stroke="#000" stroke-width="1.6"/>
<circle cx="130.1" cy="1181.6" r="3.1" fill="#fff"/>
<path d="M142.40 1139.00C142.45 1141.08 142.51 1148.32 142.70 1152.00C142.89 1155.68 143.25 1159.12 143.60 1162.00C143.95 1164.88 144.45 1167.60 144.90 1170.00C145.35 1172.40 146.05 1175.10 146.40 1177.00C146.75 1178.90 146.99 1181.12 147.10 1181.90L137.10 1181.90C137.21 1181.12 137.45 1178.90 137.80 1177.00C138.15 1175.10 138.85 1172.40 139.30 1170.00C139.75 1167.60 140.25 1164.88 140.60 1162.00C140.95 1159.12 141.31 1155.68 141.50 1152.00C141.69 1148.32 141.75 1141.08 141.80 1139.00Z" fill="#ff0000" stroke="#000" stroke-width="0.9" stroke-linejoin="round"/>
<path d="M142.1 1139V1181" stroke="#000" stroke-width="1.1"/>
<path d="M142.1 1162V1181" stroke="#000" stroke-width="1.6"/>
<circle cx="142.1" cy="1181.4" r="3.1" fill="#fff"/>
<path d="M132.2 1118.6h7.4" stroke="#000" stroke-width="1.0"/>
<text class="s" transform="translate(135.90 1108.20) scale(0.9 1)" font-size="11.2" text-anchor="middle" stroke="#000" stroke-width="0.22">p=0.926</text>
<text class="s" transform="translate(137.2 1210.8) scale(0.9 1) rotate(-45)" font-size="13.7" text-anchor="end" stroke="#000" stroke-width="0.22">B cells memory</text>
<path d="M166.30 1166.00C166.36 1167.31 165.96 1171.66 166.70 1174.20C167.44 1176.74 170.23 1180.67 170.90 1181.90L161.10 1181.90C161.77 1180.67 164.56 1176.74 165.30 1174.20C166.04 1171.66 165.64 1167.31 165.70 1166.00Z" fill="#0000ff" stroke="#000" stroke-width="0.9" stroke-linejoin="round"/>
<path d="M166.0 1166V1176" stroke="#000" stroke-width="1.1"/>
<circle cx="166.0" cy="1182.2" r="3.1" fill="#fff"/>
<path d="M178.30 1161.20C178.36 1162.45 178.43 1166.79 178.70 1169.00C178.97 1171.21 179.31 1172.94 180.00 1175.00C180.69 1177.06 182.52 1180.80 183.00 1181.90L173.00 1181.90C173.48 1180.80 175.31 1177.06 176.00 1175.00C176.69 1172.94 177.03 1171.21 177.30 1169.00C177.57 1166.79 177.64 1162.45 177.70 1161.20Z" fill="#ff0000" stroke="#000" stroke-width="0.9" stroke-linejoin="round"/>
<path d="M178.0 1161V1181" stroke="#000" stroke-width="1.1"/>
<path d="M178.0 1166V1177" stroke="#000" stroke-width="1.6"/>
<circle cx="178.0" cy="1182.0" r="3.1" fill="#fff"/>
<path d="M168.1 1161.2h7.4" stroke="#000" stroke-width="1.0"/>
<text class="s" transform="translate(171.80 1150.70) scale(0.9 1)" font-size="11.2" text-anchor="middle" stroke="#000" stroke-width="0.22">p=0.134</text>
<text class="s" transform="translate(173.1 1210.8) scale(0.9 1) rotate(-45)" font-size="13.7" text-anchor="end" stroke="#000" stroke-width="0.22">Plasma cells</text>
<path d="M202.30 929.70C202.33 939.35 202.28 975.55 202.50 990.00C202.72 1004.45 203.32 1010.40 203.70 1020.00C204.08 1029.60 204.47 1040.40 204.90 1050.00C205.33 1059.60 206.06 1072.32 206.40 1080.00C206.74 1087.68 206.98 1091.92 207.00 1098.00C207.02 1104.08 206.80 1111.95 206.50 1118.00C206.20 1124.05 205.32 1132.95 205.10 1135.80L198.70 1135.80C198.48 1132.95 197.60 1124.05 197.30 1118.00C197.00 1111.95 196.78 1104.08 196.80 1098.00C196.82 1091.92 197.06 1087.68 197.40 1080.00C197.74 1072.32 198.47 1059.60 198.90 1050.00C199.33 1040.40 199.72 1029.60 200.10 1020.00C200.48 1010.40 201.08 1004.45 201.30 990.00C201.52 975.55 201.47 939.35 201.50 929.70Z" fill="#0000ff" stroke="#000" stroke-width="0.9" stroke-linejoin="round"/>
<path d="M201.9 945V1135" stroke="#000" stroke-width="1.1"/>
<path d="M201.9 1045V1112" stroke="#000" stroke-width="1.6"/>
<circle cx="201.9" cy="1087.0" r="3.1" fill="#fff"/>
<path d="M214.30 978.90C214.33 982.28 214.32 993.42 214.50 1000.00C214.68 1006.58 214.94 1012.00 215.40 1020.00C215.86 1028.00 216.87 1040.40 217.40 1050.00C217.93 1059.60 218.46 1072.32 218.70 1080.00C218.94 1087.68 219.03 1091.60 218.90 1098.00C218.77 1104.40 218.28 1113.89 217.90 1120.00C217.52 1126.11 216.72 1133.61 216.50 1136.20L211.30 1136.20C211.08 1133.61 210.28 1126.11 209.90 1120.00C209.52 1113.89 209.03 1104.40 208.90 1098.00C208.77 1091.60 208.86 1087.68 209.10 1080.00C209.34 1072.32 209.87 1059.60 210.40 1050.00C210.93 1040.40 211.94 1028.00 212.40 1020.00C212.86 1012.00 213.12 1006.58 213.30 1000.00C213.48 993.42 213.47 982.28 213.50 978.90Z" fill="#ff0000" stroke="#000" stroke-width="0.9" stroke-linejoin="round"/>
<path d="M213.9 979V1136" stroke="#000" stroke-width="1.1"/>
<path d="M213.9 1052V1105" stroke="#000" stroke-width="1.6"/>
<circle cx="213.9" cy="1079.3" r="3.1" fill="#fff"/>
<path d="M204.0 929.7h7.4" stroke="#000" stroke-width="1.0"/>
<text class="s" transform="translate(207.70 918.90) scale(0.9 1)" font-size="11.2" text-anchor="middle" stroke="#000" stroke-width="0.22">p=0.794</text>
<text class="s" transform="translate(209.0 1210.8) scale(0.9 1) rotate(-45)" font-size="13.7" text-anchor="end" stroke="#000" stroke-width="0.22">T cells CD8</text>
<path d="M238.20 1022.90C238.23 1026.44 238.22 1039.06 238.40 1045.00C238.58 1050.94 238.76 1052.80 239.30 1060.00C239.84 1067.20 241.21 1082.00 241.80 1090.00C242.39 1098.00 242.87 1103.60 243.00 1110.00C243.13 1116.40 242.87 1123.60 242.60 1130.00C242.33 1136.40 241.75 1143.33 241.30 1150.00C240.85 1156.67 240.04 1168.23 239.80 1171.70L235.80 1171.70C235.56 1168.23 234.75 1156.67 234.30 1150.00C233.85 1143.33 233.27 1136.40 233.00 1130.00C232.73 1123.60 232.47 1116.40 232.60 1110.00C232.73 1103.60 233.21 1098.00 233.80 1090.00C234.39 1082.00 235.76 1067.20 236.30 1060.00C236.84 1052.80 237.02 1050.94 237.20 1045.00C237.38 1039.06 237.37 1026.44 237.40 1022.90Z" fill="#0000ff" stroke="#000" stroke-width="0.9" stroke-linejoin="round"/>
<path d="M237.8 1023V1171" stroke="#000" stroke-width="1.1"/>
<path d="M237.8 1092V1140" stroke="#000" stroke-width="1.6"/>
<circle cx="237.8" cy="1116.6" r="3.1" fill="#fff"/>
<path d="M250.20 1074.90C250.23 1076.52 250.14 1081.78 250.40 1085.00C250.66 1088.22 251.26 1091.00 251.80 1095.00C252.34 1099.00 253.32 1105.68 253.80 1110.00C254.28 1114.32 254.80 1117.20 254.80 1122.00C254.80 1126.80 254.20 1133.92 253.80 1140.00C253.40 1146.08 252.62 1153.30 252.30 1160.00C251.98 1166.70 251.88 1178.40 251.80 1181.90L247.80 1181.90C247.72 1178.40 247.62 1166.70 247.30 1160.00C246.98 1153.30 246.20 1146.08 245.80 1140.00C245.40 1133.92 244.80 1126.80 244.80 1122.00C244.80 1117.20 245.32 1114.32 245.80 1110.00C246.28 1105.68 247.26 1099.00 247.80 1095.00C248.34 1091.00 248.94 1088.22 249.20 1085.00C249.46 1081.78 249.37 1076.52 249.40 1074.90Z" fill="#ff0000" stroke="#000" stroke-width="0.9" stroke-linejoin="round"/>
<path d="M249.8 1075V1181" stroke="#000" stroke-width="1.1"/>
<path d="M249.8 1112V1150" stroke="#000" stroke-width="1.6"/>
<circle cx="249.8" cy="1127.1" r="3.1" fill="#fff"/>
<path d="M239.9 1022.9h7.4" stroke="#000" stroke-width="1.0"/>
<text class="s" transform="translate(243.60 1011.60) scale(0.9 1)" font-size="11.2" text-anchor="middle" stroke="#000" stroke-width="0.22">p=0.033</text>
<text class="s" transform="translate(244.9 1210.8) scale(0.9 1) rotate(-45)" font-size="13.7" text-anchor="end" stroke="#000" stroke-width="0.22">T cells CD4 naive</text>
<path d="M276.20 1027.30C276.28 1030.93 276.38 1042.37 276.70 1050.00C277.02 1057.63 277.88 1068.60 278.20 1075.00C278.52 1081.40 278.78 1085.20 278.70 1090.00C278.62 1094.80 278.10 1099.19 277.70 1105.00C277.30 1110.81 276.44 1122.89 276.20 1126.30L271.20 1126.30C270.96 1122.89 270.10 1110.81 269.70 1105.00C269.30 1099.19 268.78 1094.80 268.70 1090.00C268.62 1085.20 268.88 1081.40 269.20 1075.00C269.52 1068.60 270.38 1057.63 270.70 1050.00C271.02 1042.37 271.12 1030.93 271.20 1027.30Z" fill="#0000ff" stroke="#000" stroke-width="0.9" stroke-linejoin="round"/>
<path d="M273.7 1027V1126" stroke="#000" stroke-width="1.1"/>
<path d="M273.7 1060V1100" stroke="#000" stroke-width="1.6"/>
<circle cx="273.7" cy="1086.4" r="3.1" fill="#fff"/>
<path d="M286.10 1001.70C286.36 1004.63 287.20 1013.07 287.70 1020.00C288.20 1026.93 288.64 1036.20 289.20 1045.00C289.76 1053.80 291.04 1066.20 291.20 1075.00C291.36 1083.80 290.60 1092.80 290.20 1100.00C289.80 1107.20 289.26 1113.60 288.70 1120.00C288.14 1126.40 287.12 1132.80 286.70 1140.00C286.28 1147.20 286.20 1161.00 286.10 1165.00L285.30 1165.00C285.20 1161.00 285.12 1147.20 284.70 1140.00C284.28 1132.80 283.26 1126.40 282.70 1120.00C282.14 1113.60 281.60 1107.20 281.20 1100.00C280.80 1092.80 280.04 1083.80 280.20 1075.00C280.36 1066.20 281.64 1053.80 282.20 1045.00C282.76 1036.20 283.20 1026.93 283.70 1020.00C284.20 1013.07 285.04 1004.63 285.30 1001.70Z" fill="#ff0000" stroke="#000" stroke-width="0.9" stroke-linejoin="round"/>
<path d="M285.7 1002V1165" stroke="#000" stroke-width="1.1"/>
<path d="M285.7 1050V1100" stroke="#000" stroke-width="1.6"/>
<circle cx="285.7" cy="1075.7" r="3.1" fill="#fff"/>
<path d="M275.8 1001.7h7.4" stroke="#000" stroke-width="1.0"/>
<text class="s" transform="translate(279.50 991.10) scale(0.9 1)" font-size="11.2" text-anchor="middle" stroke="#000" stroke-width="0.22">p=0.588</text>
<text class="s" transform="translate(280.8 1210.8) scale(0.9 1) rotate(-45)" font-size="13.7" text-anchor="end" stroke="#000" stroke-width="0.22">T cells CD4 memory resting</text>
<path d="M304.6 1181.7h1.5M325.2 1181.7h1.5" stroke="#000" stroke-width="1.0"/>
<path d="M311.7 1181.9h7.4" stroke="#000" stroke-width="1.0"/>
<text class="s" transform="translate(315.40 1170.80) scale(0.9 1)" font-size="11.2" text-anchor="middle" stroke="#000" stroke-width="0.22">p=0.964</text>
<text class="s" transform="translate(316.7 1210.8) scale(0.9 1) rotate(-45)" font-size="13.7" text-anchor="end" stroke="#000" stroke-width="0.22">T cells CD4 memory activated</text>
<path d="M340.5 1181.7h1.5M361.1 1181.7h1.5" stroke="#000" stroke-width="1.0"/>
<path d="M347.6 1181.9h7.4" stroke="#000" stroke-width="1.0"/>
<text class="s" transform="translate(351.30 1170.80) scale(0.9 1)" font-size="11.2" text-anchor="middle" stroke="#000" stroke-width="0.22">p=0.947</text>
<text class="s" transform="translate(352.6 1210.8) scale(0.9 1) rotate(-45)" font-size="13.7" text-anchor="end" stroke="#000" stroke-width="0.22">T cells follicular helper</text>
<path d="M381.70 1130.60C381.75 1132.90 381.82 1141.10 382.00 1145.00C382.18 1148.90 382.48 1152.12 382.80 1155.00C383.12 1157.88 383.62 1160.60 384.00 1163.00C384.38 1165.40 384.88 1167.92 385.20 1170.00C385.52 1172.08 385.94 1174.10 386.00 1176.00C386.06 1177.90 385.66 1180.96 385.60 1181.90L377.20 1181.90C377.14 1180.96 376.74 1177.90 376.80 1176.00C376.86 1174.10 377.28 1172.08 377.60 1170.00C377.92 1167.92 378.42 1165.40 378.80 1163.00C379.18 1160.60 379.68 1157.88 380.00 1155.00C380.32 1152.12 380.62 1148.90 380.80 1145.00C380.98 1141.10 381.05 1132.90 381.10 1130.60Z" fill="#0000ff" stroke="#000" stroke-width="0.9" stroke-linejoin="round"/>
<path d="M381.4 1131V1181" stroke="#000" stroke-width="1.1"/>
<path d="M381.4 1168V1181" stroke="#000" stroke-width="1.6"/>
<circle cx="381.4" cy="1175.3" r="3.1" fill="#fff"/>
<path d="M393.70 1137.00C393.78 1138.76 393.93 1144.80 394.20 1148.00C394.47 1151.20 394.98 1154.28 395.40 1157.00C395.82 1159.72 396.38 1162.60 396.80 1165.00C397.22 1167.40 397.78 1169.92 398.00 1172.00C398.22 1174.08 398.26 1176.42 398.20 1178.00C398.14 1179.58 397.70 1181.28 397.60 1181.90L389.20 1181.90C389.10 1181.28 388.66 1179.58 388.60 1178.00C388.54 1176.42 388.58 1174.08 388.80 1172.00C389.02 1169.92 389.58 1167.40 390.00 1165.00C390.42 1162.60 390.98 1159.72 391.40 1157.00C391.82 1154.28 392.33 1151.20 392.60 1148.00C392.87 1144.80 393.02 1138.76 393.10 1137.00Z" fill="#ff0000" stroke="#000" stroke-width="0.9" stroke-linejoin="round"/>
<path d="M393.4 1137V1181" stroke="#000" stroke-width="1.1"/>
<path d="M393.4 1166V1181" stroke="#000" stroke-width="1.6"/>
<circle cx="393.4" cy="1176.0" r="3.1" fill="#fff"/>
<path d="M383.5 1130.6h7.4" stroke="#000" stroke-width="1.0"/>
<text class="s" transform="translate(387.20 1119.60) scale(0.9 1)" font-size="11.2" text-anchor="middle" stroke="#000" stroke-width="0.22">p=0.469</text>
<text class="s" transform="translate(388.5 1210.8) scale(0.9 1) rotate(-45)" font-size="13.7" text-anchor="end" stroke="#000" stroke-width="0.22">T cells regulatory (Tregs)</text>
<path d="M412.3 1181.7h1.5M432.9 1181.7h1.5" stroke="#000" stroke-width="1.0"/>
<path d="M419.4 1181.9h7.4" stroke="#000" stroke-width="1.0"/>
<text class="s" transform="translate(423.10 1170.80) scale(0.9 1)" font-size="11.2" text-anchor="middle" stroke="#000" stroke-width="0.22">p=0.947</text>
<text class="s" transform="translate(424.4 1210.8) scale(0.9 1) rotate(-45)" font-size="13.7" text-anchor="end" stroke="#000" stroke-width="0.22">T cells gamma delta</text>
<path d="M455.40 1014.90C455.46 1017.32 455.58 1025.18 455.80 1030.00C456.02 1034.82 456.50 1040.20 456.80 1045.00C457.10 1049.80 457.64 1055.20 457.70 1060.00C457.76 1064.80 457.44 1070.20 457.20 1075.00C456.96 1079.80 456.52 1084.82 456.20 1090.00C455.88 1095.18 455.36 1104.62 455.20 1107.40L451.20 1107.40C451.04 1104.62 450.52 1095.18 450.20 1090.00C449.88 1084.82 449.44 1079.80 449.20 1075.00C448.96 1070.20 448.64 1064.80 448.70 1060.00C448.76 1055.20 449.30 1049.80 449.60 1045.00C449.90 1040.20 450.38 1034.82 450.60 1030.00C450.82 1025.18 450.94 1017.32 451.00 1014.90Z" fill="#0000ff" stroke="#000" stroke-width="0.9" stroke-linejoin="round"/>
<path d="M453.2 1015V1107" stroke="#000" stroke-width="1.1"/>
<path d="M453.2 1045V1075" stroke="#000" stroke-width="1.6"/>
<circle cx="453.2" cy="1060.0" r="3.1" fill="#fff"/>
<path d="M465.60 993.00C465.73 994.92 466.08 1000.68 466.40 1005.00C466.72 1009.32 467.15 1014.40 467.60 1020.00C468.05 1025.60 468.78 1034.40 469.20 1040.00C469.62 1045.60 470.14 1050.20 470.20 1055.00C470.26 1059.80 469.89 1065.20 469.60 1070.00C469.31 1074.80 468.82 1079.48 468.40 1085.00C467.98 1090.52 467.22 1101.38 467.00 1104.50L463.40 1104.50C463.18 1101.38 462.42 1090.52 462.00 1085.00C461.58 1079.48 461.09 1074.80 460.80 1070.00C460.51 1065.20 460.14 1059.80 460.20 1055.00C460.26 1050.20 460.78 1045.60 461.20 1040.00C461.62 1034.40 462.35 1025.60 462.80 1020.00C463.25 1014.40 463.68 1009.32 464.00 1005.00C464.32 1000.68 464.67 994.92 464.80 993.00Z" fill="#ff0000" stroke="#000" stroke-width="0.9" stroke-linejoin="round"/>
<path d="M465.2 993V1104" stroke="#000" stroke-width="1.1"/>
<path d="M465.2 1040V1070" stroke="#000" stroke-width="1.6"/>
<circle cx="465.2" cy="1055.0" r="3.1" fill="#fff"/>
<path d="M455.3 993.0h7.4" stroke="#000" stroke-width="1.0"/>
<text class="s" transform="translate(459.00 982.60) scale(0.9 1)" font-size="11.2" text-anchor="middle" stroke="#000" stroke-width="0.22">p=0.491</text>
<text class="s" transform="translate(460.3 1210.8) scale(0.9 1) rotate(-45)" font-size="13.7" text-anchor="end" stroke="#000" stroke-width="0.22">NK cells resting</text>
<path d="M484.1 1181.7h1.5M504.7 1181.7h1.5" stroke="#000" stroke-width="1.0"/>
<path d="M491.2 1181.9h7.4" stroke="#000" stroke-width="1.0"/>
<text class="s" transform="translate(494.90 1171.60) scale(0.9 1)" font-size="11.2" text-anchor="middle" stroke="#000" stroke-width="0.22">p=0.947</text>
<text class="s" transform="translate(496.2 1210.8) scale(0.9 1) rotate(-45)" font-size="13.7" text-anchor="end" stroke="#000" stroke-width="0.22">NK cells activated</text>
<path d="M526.20 875.10C526.23 879.08 526.27 891.22 526.40 900.00C526.53 908.78 526.71 921.20 527.00 930.00C527.29 938.80 527.88 947.80 528.20 955.00C528.52 962.20 528.81 969.40 529.00 975.00C529.19 980.60 529.38 985.20 529.40 990.00C529.42 994.80 529.26 999.40 529.10 1005.00C528.94 1010.60 528.70 1018.60 528.40 1025.00C528.10 1031.40 527.55 1039.40 527.20 1045.00C526.85 1050.60 526.47 1055.81 526.20 1060.00C525.93 1064.19 525.61 1069.41 525.50 1071.20L524.50 1071.20C524.39 1069.41 524.07 1064.19 523.80 1060.00C523.53 1055.81 523.15 1050.60 522.80 1045.00C522.45 1039.40 521.90 1031.40 521.60 1025.00C521.30 1018.60 521.06 1010.60 520.90 1005.00C520.74 999.40 520.58 994.80 520.60 990.00C520.62 985.20 520.81 980.60 521.00 975.00C521.19 969.40 521.48 962.20 521.80 955.00C522.12 947.80 522.71 938.80 523.00 930.00C523.29 921.20 523.47 908.78 523.60 900.00C523.73 891.22 523.77 879.08 523.80 875.10Z" fill="#0000ff" stroke="#000" stroke-width="0.9" stroke-linejoin="round"/>
<path d="M525.0 875V1071" stroke="#000" stroke-width="1.1"/>
<path d="M525.0 965V1015" stroke="#000" stroke-width="1.6"/>
<circle cx="525.0" cy="989.8" r="3.1" fill="#fff"/>
<path d="M537.30 811.00C537.33 820.44 537.32 855.76 537.50 870.00C537.68 884.24 538.03 891.20 538.40 900.00C538.77 908.80 539.35 917.00 539.80 925.00C540.25 933.00 540.85 942.80 541.20 950.00C541.55 957.20 541.92 963.60 542.00 970.00C542.08 976.40 541.83 983.60 541.70 990.00C541.57 996.40 541.47 1003.60 541.20 1010.00C540.93 1016.40 540.35 1024.40 540.00 1030.00C539.65 1035.60 539.26 1040.42 539.00 1045.00C538.74 1049.58 538.50 1056.42 538.40 1058.60L535.60 1058.60C535.50 1056.42 535.26 1049.58 535.00 1045.00C534.74 1040.42 534.35 1035.60 534.00 1030.00C533.65 1024.40 533.07 1016.40 532.80 1010.00C532.53 1003.60 532.43 996.40 532.30 990.00C532.17 983.60 531.92 976.40 532.00 970.00C532.08 963.60 532.45 957.20 532.80 950.00C533.15 942.80 533.75 933.00 534.20 925.00C534.65 917.00 535.23 908.80 535.60 900.00C535.97 891.20 536.32 884.24 536.50 870.00C536.68 855.76 536.67 820.44 536.70 811.00Z" fill="#ff0000" stroke="#000" stroke-width="0.9" stroke-linejoin="round"/>
<path d="M537.0 811V1058" stroke="#000" stroke-width="1.1"/>
<path d="M537.0 945V1000" stroke="#000" stroke-width="1.6"/>
<circle cx="537.0" cy="971.5" r="3.1" fill="#fff"/>
<path d="M527.1 811.0h7.4" stroke="#000" stroke-width="1.0"/>
<text class="s" transform="translate(530.80 800.80) scale(0.9 1)" font-size="11.2" text-anchor="middle" stroke="#000" stroke-width="0.22">p=0.161</text>
<text class="s" transform="translate(532.1 1210.8) scale(0.9 1) rotate(-45)" font-size="13.7" text-anchor="end" stroke="#000" stroke-width="0.22">Monocytes</text>
<path d="M573.20 1172.00C573.28 1172.56 573.33 1174.46 573.70 1175.50C574.07 1176.54 574.89 1177.48 575.50 1178.50C576.11 1179.52 577.18 1181.36 577.50 1181.90L568.30 1181.90C568.62 1181.36 569.69 1179.52 570.30 1178.50C570.91 1177.48 571.73 1176.54 572.10 1175.50C572.47 1174.46 572.52 1172.56 572.60 1172.00Z" fill="#ff0000" stroke="#000" stroke-width="0.9" stroke-linejoin="round"/>
<path d="M572.9 1172V1178" stroke="#000" stroke-width="1.1"/>
<circle cx="572.9" cy="1182.4" r="3.1" fill="#fff"/>
<path d="M555.9 1181.4h1.4M559.4 1178.2h1.4M562.9 1174.7h1.4M564.9 1179.7h1.4" stroke="#000" stroke-width="1.2"/>
<path d="M563.0 1172.0h7.4" stroke="#000" stroke-width="1.0"/>
<text class="s" transform="translate(566.70 1161.80) scale(0.9 1)" font-size="11.2" text-anchor="middle" stroke="#000" stroke-width="0.22">p=0.180</text>
<text class="s" transform="translate(568.0 1210.8) scale(0.9 1) rotate(-45)" font-size="13.7" text-anchor="end" stroke="#000" stroke-width="0.22">Macrophages M0</text>
<path d="M591.8 1181.7h1.5M612.4 1181.7h1.5" stroke="#000" stroke-width="1.0"/>
<path d="M598.9 1181.9h7.4" stroke="#000" stroke-width="1.0"/>
<text class="s" transform="translate(602.60 1171.60) scale(0.9 1)" font-size="11.2" text-anchor="middle" stroke="#000" stroke-width="0.22">p=0.947</text>
<text class="s" transform="translate(603.9 1210.8) scale(0.9 1) rotate(-45)" font-size="13.7" text-anchor="end" stroke="#000" stroke-width="0.22">Macrophages M1</text>
<path d="M633.00 1170.00C633.08 1170.56 633.10 1172.46 633.50 1173.50C633.90 1174.54 634.89 1175.54 635.50 1176.50C636.11 1177.46 637.04 1178.64 637.30 1179.50C637.56 1180.36 637.13 1181.52 637.10 1181.90L628.30 1181.90C628.27 1181.52 627.84 1180.36 628.10 1179.50C628.36 1178.64 629.29 1177.46 629.90 1176.50C630.51 1175.54 631.50 1174.54 631.90 1173.50C632.30 1172.46 632.32 1170.56 632.40 1170.00Z" fill="#0000ff" stroke="#000" stroke-width="0.9" stroke-linejoin="round"/>
<path d="M632.7 1170V1181" stroke="#000" stroke-width="1.1"/>
<circle cx="632.7" cy="1180.2" r="3.1" fill="#fff"/>
<path d="M645.00 1158.30C645.03 1160.17 645.06 1167.57 645.20 1170.00C645.34 1172.43 645.40 1172.54 645.90 1173.50C646.40 1174.46 647.71 1175.12 648.30 1176.00C648.89 1176.88 649.44 1178.06 649.60 1179.00C649.76 1179.94 649.35 1181.44 649.30 1181.90L640.10 1181.90C640.05 1181.44 639.64 1179.94 639.80 1179.00C639.96 1178.06 640.51 1176.88 641.10 1176.00C641.69 1175.12 643.00 1174.46 643.50 1173.50C644.00 1172.54 644.06 1172.43 644.20 1170.00C644.34 1167.57 644.37 1160.17 644.40 1158.30Z" fill="#ff0000" stroke="#000" stroke-width="0.9" stroke-linejoin="round"/>
<path d="M644.7 1158V1181" stroke="#000" stroke-width="1.1"/>
<circle cx="644.7" cy="1179.4" r="3.1" fill="#fff"/>
<path d="M634.8 1158.3h7.4" stroke="#000" stroke-width="1.0"/>
<text class="s" transform="translate(638.50 1148.50) scale(0.9 1)" font-size="11.2" text-anchor="middle" stroke="#000" stroke-width="0.22">p=0.950</text>
<text class="s" transform="translate(639.8 1210.8) scale(0.9 1) rotate(-45)" font-size="13.7" text-anchor="end" stroke="#000" stroke-width="0.22">Macrophages M2</text>
<path d="M663.6 1181.7h1.5M684.2 1181.7h1.5" stroke="#000" stroke-width="1.0"/>
<path d="M670.7 1181.9h7.4" stroke="#000" stroke-width="1.0"/>
<text class="s" transform="translate(674.40 1171.60) scale(0.9 1)" font-size="11.2" text-anchor="middle" stroke="#000" stroke-width="0.22">p=0.947</text>
<text class="s" transform="translate(675.7 1210.8) scale(0.9 1) rotate(-45)" font-size="13.7" text-anchor="end" stroke="#000" stroke-width="0.22">Dendritic cells resting</text>
<path d="M699.5 1181.7h1.5M720.1 1181.7h1.5" stroke="#000" stroke-width="1.0"/>
<path d="M702.3 1177.1000000000001l-2.6 1.9 2.6 1.9M708.9 1177.3l1.8 1.7-1.8 1.7" stroke="#0000e0" stroke-width="1.2" fill="none"/>
<path d="M714.1 1177.3l-1.8 1.7 1.8 1.7M719.1 1177.1000000000001l2.4 1.9-2.4 1.9" stroke="#f00000" stroke-width="1.2" fill="none"/>
<path d="M704.5 1174.4h1.3M710.7 1177.1000000000001h2.2" stroke="#000" stroke-width="1.0"/>
<path d="M706.6 1174.4h7.4" stroke="#000" stroke-width="1.0"/>
<text class="s" transform="translate(710.30 1164.20) scale(0.9 1)" font-size="11.2" text-anchor="middle" stroke="#000" stroke-width="0.22">p=0.505</text>
<text class="s" transform="translate(711.6 1210.8) scale(0.9 1) rotate(-45)" font-size="13.7" text-anchor="end" stroke="#000" stroke-width="0.22">Dendritic cells activated</text>
<path d="M740.40 1162.20C740.59 1162.97 741.15 1165.43 741.60 1167.00C742.05 1168.57 742.72 1170.40 743.20 1172.00C743.68 1173.60 744.34 1175.42 744.60 1177.00C744.86 1178.58 744.77 1181.12 744.80 1181.90L735.20 1181.90C735.23 1181.12 735.14 1178.58 735.40 1177.00C735.66 1175.42 736.32 1173.60 736.80 1172.00C737.28 1170.40 737.95 1168.57 738.40 1167.00C738.85 1165.43 739.41 1162.97 739.60 1162.20Z" fill="#0000ff" stroke="#000" stroke-width="0.9" stroke-linejoin="round"/>
<path d="M740.0 1162V1181" stroke="#000" stroke-width="1.1"/>
<path d="M740.0 1170V1181" stroke="#000" stroke-width="1.6"/>
<circle cx="740.0" cy="1176.6" r="3.1" fill="#fff"/>
<path d="M753.80 1163.70C754.09 1164.07 755.09 1164.99 755.60 1166.00C756.11 1167.01 756.66 1168.56 757.00 1170.00C757.34 1171.44 757.60 1173.10 757.70 1175.00C757.80 1176.90 757.62 1180.80 757.60 1181.90L748.00 1181.90C747.98 1180.80 747.80 1176.90 747.90 1175.00C748.00 1173.10 748.26 1171.44 748.60 1170.00C748.94 1168.56 749.49 1167.01 750.00 1166.00C750.51 1164.99 751.51 1164.07 751.80 1163.70Z" fill="#ff0000" stroke="#000" stroke-width="0.9" stroke-linejoin="round"/>
<path d="M752.8 1164V1181" stroke="#000" stroke-width="1.1"/>
<path d="M752.8 1168V1181" stroke="#000" stroke-width="1.6"/>
<circle cx="752.8" cy="1175.0" r="3.1" fill="#fff"/>
<path d="M742.5 1161.9h7.4" stroke="#000" stroke-width="1.0"/>
<text class="s" transform="translate(746.20 1151.70) scale(0.9 1)" font-size="11.2" text-anchor="middle" stroke="#000" stroke-width="0.22">p=0.514</text>
<text class="s" transform="translate(747.5 1210.8) scale(0.9 1) rotate(-45)" font-size="13.7" text-anchor="end" stroke="#000" stroke-width="0.22">Mast cells resting</text>
<path d="M771.3 1181.7h1.5M791.9 1181.7h1.5" stroke="#000" stroke-width="1.0"/>
<path d="M778.4 1181.9h7.4" stroke="#000" stroke-width="1.0"/>
<text class="s" transform="translate(782.10 1171.60) scale(0.9 1)" font-size="11.2" text-anchor="middle" stroke="#000" stroke-width="0.22">p=0.947</text>
<text class="s" transform="translate(783.4 1210.8) scale(0.9 1) rotate(-45)" font-size="13.7" text-anchor="end" stroke="#000" stroke-width="0.22">Mast cells activated</text>
<path d="M807.2 1181.7h1.5M827.8 1181.7h1.5" stroke="#000" stroke-width="1.0"/>
<path d="M815.0 1181.9h1.6M819.2 1181.9h1.6" stroke="#000" stroke-width="1.0"/>
<path d="M814.3 1178.6h7.4" stroke="#000" stroke-width="1.0"/>
<text class="s" transform="translate(818.00 1168.20) scale(0.9 1)" font-size="11.2" text-anchor="middle" stroke="#000" stroke-width="0.22">p=0.129</text>
<text class="s" transform="translate(819.3 1210.8) scale(0.9 1) rotate(-45)" font-size="13.7" text-anchor="end" stroke="#000" stroke-width="0.22">Eosinophils</text>
<path d="M848.00 1148.60C848.03 1150.58 848.02 1158.38 848.20 1161.00C848.38 1163.62 848.67 1163.72 849.10 1165.00C849.53 1166.28 850.39 1167.72 850.90 1169.00C851.41 1170.28 852.03 1171.72 852.30 1173.00C852.57 1174.28 852.70 1175.58 852.60 1177.00C852.50 1178.42 851.84 1181.12 851.70 1181.90L843.70 1181.90C843.56 1181.12 842.90 1178.42 842.80 1177.00C842.70 1175.58 842.83 1174.28 843.10 1173.00C843.37 1171.72 843.99 1170.28 844.50 1169.00C845.01 1167.72 845.87 1166.28 846.30 1165.00C846.73 1163.72 847.02 1163.62 847.20 1161.00C847.38 1158.38 847.37 1150.58 847.40 1148.60Z" fill="#0000ff" stroke="#000" stroke-width="0.9" stroke-linejoin="round"/>
<path d="M847.7 1149V1181" stroke="#000" stroke-width="1.1"/>
<path d="M847.7 1168V1181" stroke="#000" stroke-width="1.6"/>
<circle cx="847.7" cy="1174.3" r="3.1" fill="#fff"/>
<path d="M860.50 1130.00C860.60 1131.60 860.91 1136.80 861.10 1140.00C861.29 1143.20 861.49 1147.12 861.70 1150.00C861.91 1152.88 862.08 1155.76 862.40 1158.00C862.72 1160.24 863.30 1162.08 863.70 1164.00C864.10 1165.92 864.72 1168.08 864.90 1170.00C865.08 1171.92 864.93 1174.10 864.80 1176.00C864.67 1177.90 864.21 1180.96 864.10 1181.90L856.10 1181.90C855.99 1180.96 855.53 1177.90 855.40 1176.00C855.27 1174.10 855.12 1171.92 855.30 1170.00C855.48 1168.08 856.10 1165.92 856.50 1164.00C856.90 1162.08 857.48 1160.24 857.80 1158.00C858.12 1155.76 858.29 1152.88 858.50 1150.00C858.71 1147.12 858.91 1143.20 859.10 1140.00C859.29 1136.80 859.60 1131.60 859.70 1130.00Z" fill="#ff0000" stroke="#000" stroke-width="0.9" stroke-linejoin="round"/>
<path d="M860.1 1130V1181" stroke="#000" stroke-width="1.1"/>
<path d="M860.1 1160V1181" stroke="#000" stroke-width="1.6"/>
<circle cx="860.1" cy="1169.5" r="3.1" fill="#fff"/>
<path d="M850.2 1130.0h7.4" stroke="#000" stroke-width="1.0"/>
<text class="s" transform="translate(853.90 1119.80) scale(0.9 1)" font-size="11.2" text-anchor="middle" stroke="#000" stroke-width="0.22">p=0.026</text>
<text class="s" transform="translate(855.2 1210.8) scale(0.9 1) rotate(-45)" font-size="13.7" text-anchor="end" stroke="#000" stroke-width="0.22">Neutrophils</text>
<path d="M801.4 777.4H823.2" stroke="#0000ff" stroke-width="2.7" stroke-linecap="round"/>
<path d="M801.4 793.8H823.2" stroke="#ff0000" stroke-width="2.7" stroke-linecap="round"/>
<text class="s" transform="translate(834.00 782.50) scale(0.822 1)" font-size="14.9" stroke="#000" stroke-width="0.22">NonHF</text>
<text class="s" transform="translate(834.00 798.70) scale(0.822 1)" font-size="14.9" stroke="#000" stroke-width="0.22">HF</text>
</g>
<g id="panelE">
<path d="M1110.6 760.3V773.1M1110.6 1127.6V1140M1154.9 760.3V773.1M1154.9 1127.6V1140M1199.2 760.3V773.1M1199.2 1127.6V1140M1243.5 760.3V773.1M1243.5 1127.6V1140M1287.8 760.3V773.1M1287.8 1127.6V1140M1332.1 760.3V773.1M1332.1 1127.6V1140M1376.4 760.3V773.1M1376.4 1127.6V1140M1420.7 760.3V773.1M1420.7 1127.6V1140M1465.0 760.3V773.1M1465.0 1127.6V1140M1509.3 760.3V773.1M1509.3 1127.6V1140M1553.5 760.3V773.1M1553.5 1127.6V1140M1597.8 760.3V773.1M1597.8 1127.6V1140M1642.1 760.3V773.1M1642.1 1127.6V1140M1686.4 760.3V773.1M1686.4 1127.6V1140M1730.7 760.3V773.1M1730.7 1127.6V1140M1775.0 760.3V773.1M1775.0 1127.6V1140M1084 832.2H1088.5M1797.1 832.2h4M1084 950.4H1088.5M1797.1 950.4h4M1084 1068.6H1088.5M1797.1 1068.6h4" stroke="#ebebeb" stroke-width="1.1"/>
<rect x="1086.55" y="770.80" width="712.54" height="359.14" fill="#bdbebe"/>
<rect x="1090.45" y="775.40" width="40.39" height="113.58" fill="#e9e6f5"/>
<rect x="1134.74" y="775.40" width="40.39" height="113.58" fill="#f1eff9"/>
<rect x="1179.03" y="775.40" width="40.39" height="113.58" fill="#fffaf8"/>
<rect x="1223.32" y="775.40" width="40.39" height="113.58" fill="#fff4f1"/>
<rect x="1267.61" y="775.40" width="40.39" height="113.58" fill="#ffe0da"/>
<rect x="1311.90" y="775.40" width="40.39" height="113.58" fill="#a19cd1"/>
<text class="s" transform="translate(1332.10 838.19) scale(0.865 1)" font-size="19.2" text-anchor="middle" stroke="#000" stroke-width="0.45">*</text>
<rect x="1356.19" y="775.40" width="40.39" height="113.58" fill="#ffa899"/>
<rect x="1400.48" y="775.40" width="40.39" height="113.58" fill="#ff917f"/>
<text class="s" transform="translate(1420.67 838.19) scale(0.865 1)" font-size="19.2" text-anchor="middle" stroke="#000" stroke-width="0.45">*</text>
<rect x="1444.77" y="775.40" width="40.39" height="113.58" fill="#ea2e2e"/>
<text class="s" transform="translate(1464.96 838.19) scale(0.865 1)" font-size="19.2" text-anchor="middle" stroke="#000" stroke-width="0.45">***</text>
<rect x="1489.06" y="775.40" width="40.39" height="113.58" fill="#f8f7fc"/>
<rect x="1533.35" y="775.40" width="40.39" height="113.58" fill="#ffede9"/>
<rect x="1577.64" y="775.40" width="40.39" height="113.58" fill="#ffa797"/>
<rect x="1621.93" y="775.40" width="40.39" height="113.58" fill="#ffddd6"/>
<rect x="1666.22" y="775.40" width="40.39" height="113.58" fill="#8781c3"/>
<text class="s" transform="translate(1686.41 838.19) scale(0.865 1)" font-size="19.2" text-anchor="middle" stroke="#000" stroke-width="0.45">**</text>
<rect x="1710.51" y="775.40" width="40.39" height="113.58" fill="#dcd9ee"/>
<rect x="1754.80" y="775.40" width="40.39" height="113.58" fill="#fff2ee"/>
<rect x="1090.45" y="893.58" width="40.39" height="113.58" fill="#e7e4f4"/>
<rect x="1134.74" y="893.58" width="40.39" height="113.58" fill="#f6f5fb"/>
<rect x="1179.03" y="893.58" width="40.39" height="113.58" fill="#cfcae8"/>
<rect x="1223.32" y="893.58" width="40.39" height="113.58" fill="#eceaf6"/>
<rect x="1267.61" y="893.58" width="40.39" height="113.58" fill="#ffd9d1"/>
<rect x="1311.90" y="893.58" width="40.39" height="113.58" fill="#a9a3d5"/>
<text class="s" transform="translate(1332.10 956.37) scale(0.865 1)" font-size="19.2" text-anchor="middle" stroke="#000" stroke-width="0.45">*</text>
<rect x="1356.19" y="893.58" width="40.39" height="113.58" fill="#ff9584"/>
<text class="s" transform="translate(1376.38 956.37) scale(0.865 1)" font-size="19.2" text-anchor="middle" stroke="#000" stroke-width="0.45">*</text>
<rect x="1400.48" y="893.58" width="40.39" height="113.58" fill="#ff8f7d"/>
<text class="s" transform="translate(1420.67 956.37) scale(0.865 1)" font-size="19.2" text-anchor="middle" stroke="#000" stroke-width="0.45">*</text>
<rect x="1444.77" y="893.58" width="40.39" height="113.58" fill="#ec3331"/>
<text class="s" transform="translate(1464.96 956.37) scale(0.865 1)" font-size="19.2" text-anchor="middle" stroke="#000" stroke-width="0.45">***</text>
<rect x="1489.06" y="893.58" width="40.39" height="113.58" fill="#ffece8"/>
<rect x="1533.35" y="893.58" width="40.39" height="113.58" fill="#eeecf7"/>
<rect x="1577.64" y="893.58" width="40.39" height="113.58" fill="#e2dff1"/>
<rect x="1621.93" y="893.58" width="40.39" height="113.58" fill="#fffaf8"/>
<rect x="1666.22" y="893.58" width="40.39" height="113.58" fill="#5c5aab"/>
<text class="s" transform="translate(1686.41 956.37) scale(0.865 1)" font-size="19.2" text-anchor="middle" stroke="#000" stroke-width="0.45">***</text>
<rect x="1710.51" y="893.58" width="40.39" height="113.58" fill="#f2f1f9"/>
<rect x="1754.80" y="893.58" width="40.39" height="113.58" fill="#ffe0d9"/>
<rect x="1090.45" y="1011.76" width="40.39" height="113.58" fill="#ffb5a7"/>
<rect x="1134.74" y="1011.76" width="40.39" height="113.58" fill="#a09bd0"/>
<text class="s" transform="translate(1154.93 1074.55) scale(0.865 1)" font-size="19.2" text-anchor="middle" stroke="#000" stroke-width="0.45">*</text>
<rect x="1179.03" y="1011.76" width="40.39" height="113.58" fill="#837fc1"/>
<text class="s" transform="translate(1199.22 1074.55) scale(0.865 1)" font-size="19.2" text-anchor="middle" stroke="#000" stroke-width="0.45">**</text>
<rect x="1223.32" y="1011.76" width="40.39" height="113.58" fill="#ffb8ab"/>
<rect x="1267.61" y="1011.76" width="40.39" height="113.58" fill="#fcfcfe"/>
<rect x="1311.90" y="1011.76" width="40.39" height="113.58" fill="#8f8ac8"/>
<text class="s" transform="translate(1332.10 1074.55) scale(0.865 1)" font-size="19.2" text-anchor="middle" stroke="#000" stroke-width="0.45">**</text>
<rect x="1356.19" y="1011.76" width="40.39" height="113.58" fill="#ff9483"/>
<text class="s" transform="translate(1376.38 1074.55) scale(0.865 1)" font-size="19.2" text-anchor="middle" stroke="#000" stroke-width="0.45">*</text>
<rect x="1400.48" y="1011.76" width="40.39" height="113.58" fill="#ffa494"/>
<rect x="1444.77" y="1011.76" width="40.39" height="113.58" fill="#f97262"/>
<text class="s" transform="translate(1464.96 1074.55) scale(0.865 1)" font-size="19.2" text-anchor="middle" stroke="#000" stroke-width="0.45">**</text>
<rect x="1489.06" y="1011.76" width="40.39" height="113.58" fill="#e9e7f5"/>
<rect x="1533.35" y="1011.76" width="40.39" height="113.58" fill="#ffb0a1"/>
<rect x="1577.64" y="1011.76" width="40.39" height="113.58" fill="#fffefc"/>
<rect x="1621.93" y="1011.76" width="40.39" height="113.58" fill="#f6f5fb"/>
<rect x="1666.22" y="1011.76" width="40.39" height="113.58" fill="#d4d0ea"/>
<rect x="1710.51" y="1011.76" width="40.39" height="113.58" fill="#f4f3fa"/>
<rect x="1754.80" y="1011.76" width="40.39" height="113.58" fill="#fff1ed"/>
<text class="s" transform="translate(1074.40 837.79) scale(0.865 1)" font-size="17" text-anchor="end" font-weight="bold" fill="#303030">FOS</text>
<text class="s" transform="translate(1074.40 955.97) scale(0.865 1)" font-size="17" text-anchor="end" font-weight="bold" fill="#303030">CXCL8</text>
<text class="s" transform="translate(1074.40 1074.15) scale(0.865 1)" font-size="17" text-anchor="end" font-weight="bold" fill="#303030">CLU</text>
<text class="s" transform="translate(1118.6 1161.1) scale(0.865 1) rotate(-45)" font-size="17.6" font-weight="bold" fill="#303030" text-anchor="end">B cells memory</text>
<text class="s" transform="translate(1162.9 1161.1) scale(0.865 1) rotate(-45)" font-size="17.6" font-weight="bold" fill="#303030" text-anchor="end">B cells naive</text>
<text class="s" transform="translate(1207.2 1161.1) scale(0.865 1) rotate(-45)" font-size="17.6" font-weight="bold" fill="#303030" text-anchor="end">Dendritic cells activated</text>
<text class="s" transform="translate(1251.5 1161.1) scale(0.865 1) rotate(-45)" font-size="17.6" font-weight="bold" fill="#303030" text-anchor="end">Eosinophils</text>
<text class="s" transform="translate(1295.8 1161.1) scale(0.865 1) rotate(-45)" font-size="17.6" font-weight="bold" fill="#303030" text-anchor="end">Macrophages M0</text>
<text class="s" transform="translate(1340.1 1161.1) scale(0.865 1) rotate(-45)" font-size="17.6" font-weight="bold" fill="#303030" text-anchor="end">Macrophages M2</text>
<text class="s" transform="translate(1384.4 1161.1) scale(0.865 1) rotate(-45)" font-size="17.6" font-weight="bold" fill="#303030" text-anchor="end">Mast cells resting</text>
<text class="s" transform="translate(1428.7 1161.1) scale(0.865 1) rotate(-45)" font-size="17.6" font-weight="bold" fill="#303030" text-anchor="end">Monocytes</text>
<text class="s" transform="translate(1473.0 1161.1) scale(0.865 1) rotate(-45)" font-size="17.6" font-weight="bold" fill="#303030" text-anchor="end">Neutrophils</text>
<text class="s" transform="translate(1517.3 1161.1) scale(0.865 1) rotate(-45)" font-size="17.6" font-weight="bold" fill="#303030" text-anchor="end">NK cells resting</text>
<text class="s" transform="translate(1561.5 1161.1) scale(0.865 1) rotate(-45)" font-size="17.6" font-weight="bold" fill="#303030" text-anchor="end">Plasma cells</text>
<text class="s" transform="translate(1605.8 1161.1) scale(0.865 1) rotate(-45)" font-size="17.6" font-weight="bold" fill="#303030" text-anchor="end">T cells CD4 memory activated</text>
<text class="s" transform="translate(1650.1 1161.1) scale(0.865 1) rotate(-45)" font-size="17.6" font-weight="bold" fill="#303030" text-anchor="end">T cells CD4 memory resting</text>
<text class="s" transform="translate(1694.4 1161.1) scale(0.865 1) rotate(-45)" font-size="17.6" font-weight="bold" fill="#303030" text-anchor="end">T cells CD4 naive</text>
<text class="s" transform="translate(1738.7 1161.1) scale(0.865 1) rotate(-45)" font-size="17.6" font-weight="bold" fill="#303030" text-anchor="end">T cells CD8</text>
<text class="s" transform="translate(1783.0 1161.1) scale(0.865 1) rotate(-45)" font-size="17.6" font-weight="bold" fill="#303030" text-anchor="end">T cells regulatory (Tregs)</text>
<text class="s" transform="translate(1826.60 820.90) scale(0.877 1)" font-size="23.5" stroke="#000" stroke-width="0.4">***  p&lt;0.001</text>
<text class="s" transform="translate(1826.60 847.60) scale(0.877 1)" font-size="23.5" stroke="#000" stroke-width="0.4">**  p&lt;0.01</text>
<text class="s" transform="translate(1832.00 874.00) scale(0.877 1)" font-size="23.5" stroke="#000" stroke-width="0.4">*  p&lt;0.05</text>
<text class="s" transform="translate(1826.60 900.70) scale(0.877 1)" font-size="23.5" stroke="#000" stroke-width="0.4">Correlation</text>
<rect x="1832.7" y="921.0" width="32.2" height="192.9" fill="url(#cg)"/>
<path d="M1832.7 968.4h6.4M1864.9 968.4h-6.4" stroke="#fff" stroke-width="1.1" opacity="0.85"/>
<text class="s" transform="translate(1875.00 975.20) scale(0.865 1)" font-size="19.6" stroke="#000" stroke-width="0.3">0.25</text>
<path d="M1832.7 1017.7h6.4M1864.9 1017.7h-6.4" stroke="#fff" stroke-width="1.1" opacity="0.85"/>
<text class="s" transform="translate(1875.00 1024.50) scale(0.865 1)" font-size="19.6" stroke="#000" stroke-width="0.3">0.00</text>
<path d="M1832.7 1067.0h6.4M1864.9 1067.0h-6.4" stroke="#fff" stroke-width="1.1" opacity="0.85"/>
<text class="s" transform="translate(1875.00 1073.80) scale(0.865 1)" font-size="19.6" stroke="#000" stroke-width="0.3">−0.25</text>
</g>
</svg>
</body></html>
